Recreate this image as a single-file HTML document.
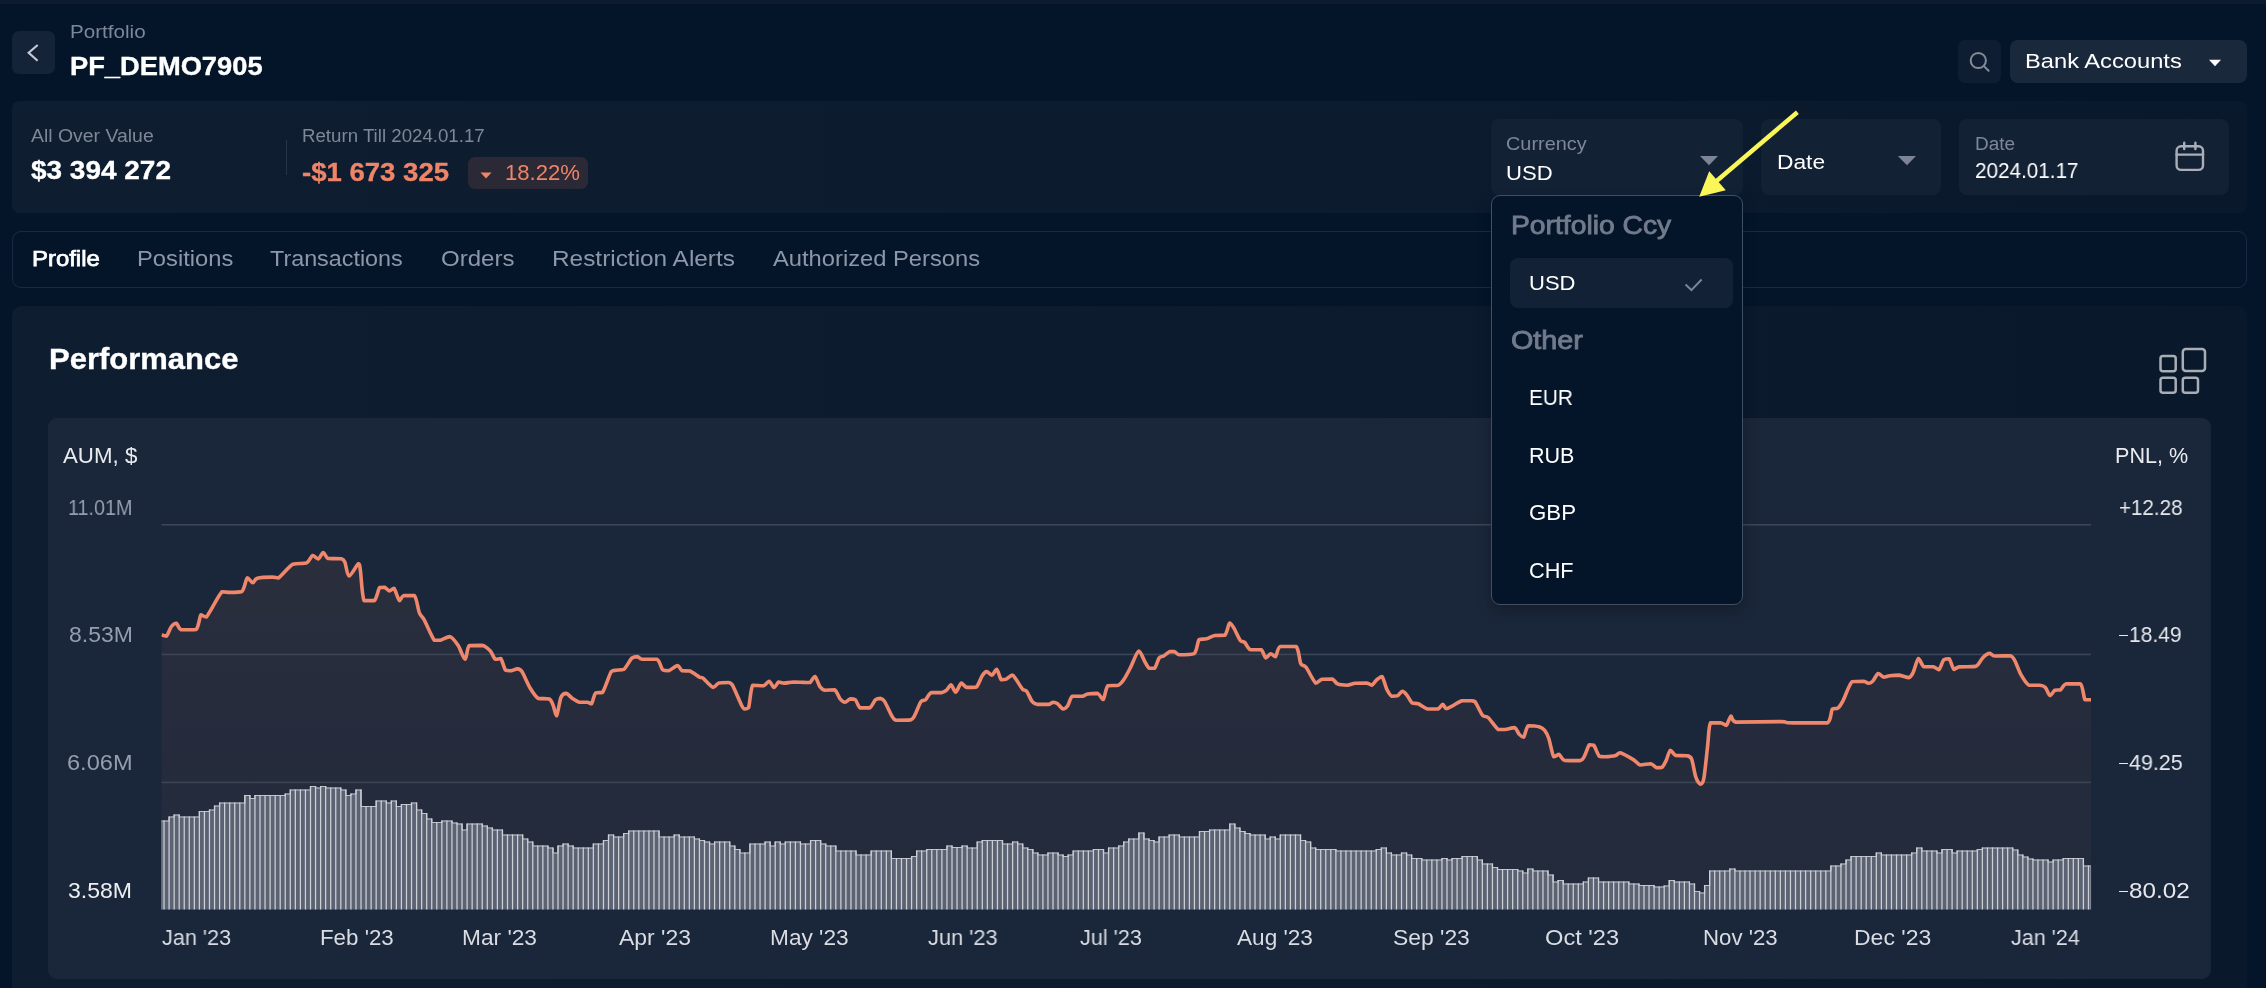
<!DOCTYPE html>
<html><head><meta charset="utf-8"><title>Portfolio</title>
<style>
html,body{margin:0;padding:0;}
html{width:2266px;height:988px;overflow:hidden;background:#04152a;}
body{width:2266px;height:988px;overflow:hidden;background:#04152a;font-family:"Liberation Sans",sans-serif;position:relative;}
.t{position:absolute;white-space:pre;margin:0;padding:0;transform-origin:0 0;will-change:transform;}
.b{position:absolute;box-sizing:border-box;}
svg{position:absolute;left:0;top:0;overflow:visible;}
</style></head><body>

<div class="b" style="left:0;top:0;width:2266px;height:4px;background:#0e1b2f;"></div>
<div class="b" style="left:12px;top:31px;width:43px;height:43px;border-radius:7px;background:#152338;"></div>
<div class="t" style="left:69.70px;top:21px;font-size:18.5px;line-height:21px;transform:scaleX(1.1149);color:#7e8798;">Portfolio</div>
<div class="t" style="left:70.20px;top:52px;font-size:25.0px;line-height:28px;transform:scaleX(1.0912);color:#ffffff;font-weight:700;-webkit-text-stroke:0.35px currentColor;">PF_DEMO7905</div>
<div class="b" style="left:1958px;top:40px;width:43px;height:43px;border-radius:7px;background:#0f1d32;"></div>
<div class="b" style="left:2010px;top:40px;width:237px;height:43px;border-radius:8px;background:#1a283c;"></div>
<div class="t" style="left:2025.00px;top:49px;font-size:20.5px;line-height:23px;transform:scaleX(1.1563);color:#ffffff;">Bank Accounts</div>
<div class="b" style="left:12px;top:101px;width:2235px;height:112px;border-radius:8px;background:linear-gradient(90deg,#0f1d31 0%,#0d1b2f 55%,#0a182b 100%);"></div>
<div class="t" style="left:30.50px;top:126px;font-size:18.0px;line-height:20px;transform:scaleX(1.0792);color:#7e8798;">All Over Value</div>
<div class="t" style="left:30.50px;top:155px;font-size:26.0px;line-height:30px;transform:scaleX(1.0753);color:#ffffff;font-weight:700;-webkit-text-stroke:0.35px currentColor;">$3 394 272</div>
<div class="b" style="left:285.5px;top:139.5px;width:1.5px;height:35px;background:#27344a;"></div>
<div class="t" style="left:302.30px;top:126px;font-size:18.0px;line-height:20px;transform:scaleX(1.0375);color:#7e8798;">Return Till 2024.01.17</div>
<div class="t" style="left:302.30px;top:158px;font-size:25.0px;line-height:28px;transform:scaleX(1.1019);color:#ee8468;font-weight:700;-webkit-text-stroke:0.35px currentColor;">-$1 673 325</div>
<div class="b" style="left:468px;top:157px;width:120px;height:31.5px;border-radius:7px;background:#2a2935;"></div>
<div class="t" style="left:505.00px;top:160px;font-size:22.0px;line-height:25px;transform:scaleX(1.0054);color:#ee8468;">18.22%</div>
<div class="b" style="left:1491px;top:119px;width:252px;height:76px;border-radius:8px;background:#132135;"></div>
<div class="b" style="left:1761px;top:119px;width:180px;height:76px;border-radius:8px;background:#132135;"></div>
<div class="b" style="left:1959px;top:119px;width:270px;height:76px;border-radius:8px;background:#132135;"></div>
<div class="t" style="left:1506.30px;top:133px;font-size:18.5px;line-height:21px;transform:scaleX(1.0746);color:#7e8798;">Currency</div>
<div class="t" style="left:1506.30px;top:161px;font-size:20.5px;line-height:23px;transform:scaleX(1.0762);color:#ffffff;">USD</div>
<div class="t" style="left:1776.90px;top:150px;font-size:20.5px;line-height:23px;transform:scaleX(1.1109);color:#ffffff;">Date</div>
<div class="t" style="left:1974.50px;top:134px;font-size:18.0px;line-height:20px;transform:scaleX(1.0526);color:#7e8798;">Date</div>
<div class="t" style="left:1974.50px;top:158px;font-size:22.0px;line-height:25px;transform:scaleX(0.9401);color:#ffffff;">2024.01.17</div>
<div class="b" style="left:12px;top:231px;width:2235px;height:57px;border-radius:9px;border:1px solid #1b2a40;background:#04152a;"></div>
<div class="t" style="left:31.60px;top:246px;font-size:22.0px;line-height:25px;transform:scaleX(1.0865);color:#ffffff;-webkit-text-stroke:0.75px currentColor;">Profile</div>
<div class="t" style="left:136.90px;top:246px;font-size:22.0px;line-height:25px;transform:scaleX(1.0784);color:#8e97a8;">Positions</div>
<div class="t" style="left:270.00px;top:246px;font-size:22.0px;line-height:25px;transform:scaleX(1.0608);color:#8e97a8;">Transactions</div>
<div class="t" style="left:440.60px;top:246px;font-size:22.0px;line-height:25px;transform:scaleX(1.0923);color:#8e97a8;">Orders</div>
<div class="t" style="left:552.00px;top:246px;font-size:22.0px;line-height:25px;transform:scaleX(1.1084);color:#8e97a8;">Restriction Alerts</div>
<div class="t" style="left:773.00px;top:246px;font-size:22.0px;line-height:25px;transform:scaleX(1.0781);color:#8e97a8;">Authorized Persons</div>
<div class="b" style="left:12px;top:306px;width:2235px;height:682px;border-radius:10px 10px 0 0;background:linear-gradient(90deg,#0f1d31 0%,#0d1b2f 55%,#0a182b 100%);"></div>
<div class="t" style="left:48.60px;top:342px;font-size:29.5px;line-height:33px;transform:scaleX(1.0499);color:#ffffff;font-weight:700;-webkit-text-stroke:0.35px currentColor;">Performance</div>
<div class="b" style="left:48px;top:418px;width:2163px;height:561px;border-radius:9px;background:#1a273a;"></div>
<div class="t" style="left:63.10px;top:443px;font-size:22.0px;line-height:25px;transform:scaleX(1.0136);color:#e9ebef;">AUM, $</div>
<div class="t" style="left:2115.40px;top:444px;font-size:21.5px;line-height:24px;transform:scaleX(1.0027);color:#e9ebef;">PNL, %</div>
<div class="t" style="left:67.80px;top:495px;font-size:22.0px;line-height:25px;transform:scaleX(0.8969);color:#949eaf;">11.01M</div>
<div class="t" style="left:68.50px;top:622px;font-size:22.0px;line-height:25px;transform:scaleX(1.0426);color:#949eaf;">8.53M</div>
<div class="t" style="left:66.70px;top:750px;font-size:22.0px;line-height:25px;transform:scaleX(1.0720);color:#949eaf;">6.06M</div>
<div class="t" style="left:68.20px;top:878px;font-size:22.0px;line-height:25px;transform:scaleX(1.0475);color:#eceef1;">3.58M</div>
<div class="t" style="left:2118.80px;top:495px;font-size:22.0px;line-height:25px;transform:scaleX(0.9352);color:#e6e8ec;">+12.28</div>
<div class="t" style="left:2129.40px;top:622px;font-size:22.0px;line-height:25px;transform:scaleX(0.9564);color:#e6e8ec;">18.49</div>
<div class="b" style="left:2118.6px;top:634.8px;width:9.2px;height:1.7px;background:#e6e8ec;"></div>
<div class="t" style="left:2129.40px;top:750px;font-size:22.0px;line-height:25px;transform:scaleX(0.9764);color:#e6e8ec;">49.25</div>
<div class="b" style="left:2118.6px;top:762.8px;width:9.2px;height:1.7px;background:#e6e8ec;"></div>
<div class="t" style="left:2129.40px;top:878px;font-size:22.0px;line-height:25px;transform:scaleX(1.1034);color:#e6e8ec;">80.02</div>
<div class="b" style="left:2118.6px;top:890.8px;width:9.2px;height:1.7px;background:#e6e8ec;"></div>
<svg width="2266" height="988" viewBox="0 0 2266 988">
<defs><clipPath id="pc"><rect x="161.5" y="500" width="1929.5" height="420"/></clipPath><linearGradient id="ag" gradientUnits="userSpaceOnUse" x1="0" y1="550" x2="0" y2="910"><stop offset="0" stop-color="#f0856a" stop-opacity="0.075"/><stop offset="1" stop-color="#f0856a" stop-opacity="0.04"/></linearGradient></defs>
<path d="M161.5,635.0 C162.2,635.2 165.1,636.1 166.5,636.1 C167.9,634.9 170.0,628.3 171.4,626.5 C172.8,624.7 174.9,623.2 176.3,623.2 C177.7,623.7 178.4,628.9 181.2,629.8 C184.0,629.8 193.2,629.8 196.0,629.5 C198.8,627.4 199.4,616.6 200.9,614.8 C202.4,614.8 203.4,617.0 206.4,617.0 C209.4,613.7 218.5,595.3 221.9,591.8 C225.3,591.8 227.3,592.4 230.1,592.4 C232.9,592.4 239.5,592.4 241.9,591.5 C244.3,589.4 245.8,579.1 247.3,577.9 C248.8,577.9 251.4,582.8 252.8,582.8 C254.2,582.8 254.6,579.0 257.4,578.2 C260.2,577.4 269.5,577.1 272.5,577.1 C275.5,577.1 275.6,577.9 278.5,577.9 C281.4,576.1 289.0,566.3 293.0,564.2 C297.0,562.9 303.8,564.1 306.6,562.9 C309.4,561.7 310.9,556.1 312.6,555.5 C314.3,555.5 316.9,559.0 318.4,559.0 C319.9,558.6 321.9,552.6 323.3,552.5 C324.7,552.5 325.6,557.6 328.2,558.5 C330.8,558.8 338.9,558.5 341.3,558.8 C343.7,559.3 343.8,559.9 344.9,562.3 C346.0,564.7 347.1,575.8 349.0,576.0 C350.9,576.0 356.9,564.5 358.5,563.7 C360.1,563.7 359.6,565.3 360.4,570.5 C361.2,575.7 362.0,596.3 364.0,600.6 C366.0,600.6 372.2,600.6 374.4,600.6 C376.6,598.7 378.2,589.4 379.6,587.5 C381.0,587.2 383.1,587.2 384.5,587.2 C385.9,587.7 388.1,590.8 389.4,591.0 C390.7,591.0 392.6,588.3 394.0,588.3 C395.4,589.7 398.1,599.6 399.5,600.6 C400.9,600.6 401.5,596.3 403.6,595.6 C405.7,595.6 412.3,595.6 414.5,595.6 C416.7,598.1 418.0,609.5 419.4,612.9 C420.8,616.3 422.0,615.8 424.1,619.7 C426.2,623.6 431.9,637.3 434.2,640.2 C436.5,640.2 438.3,640.2 440.5,640.2 C442.7,639.7 447.5,636.6 450.0,636.6 C452.5,637.4 456.1,642.4 458.2,645.6 C460.3,648.8 463.5,659.3 465.1,659.3 C466.7,659.3 466.9,647.6 469.2,645.6 C471.5,645.4 479.2,645.4 481.4,645.4 C483.6,645.5 483.7,645.7 485.0,646.5 C486.3,647.3 489.0,649.3 490.5,651.1 C492.0,652.9 493.9,658.3 495.4,659.3 C496.9,659.3 499.4,658.5 500.8,658.5 C502.2,660.0 504.1,668.5 505.5,670.2 C506.9,670.8 509.3,670.8 511.0,670.8 C512.7,670.6 515.7,668.9 517.2,668.9 C518.7,669.0 520.1,668.9 521.9,671.6 C523.7,674.3 527.8,684.2 530.1,688.0 C532.4,691.8 535.6,696.9 538.3,698.4 C541.0,698.9 547.1,698.4 549.2,698.9 C551.3,699.9 552.3,703.3 553.3,705.7 C554.3,708.1 555.5,715.8 556.6,715.8 C557.7,714.6 559.6,700.7 560.9,697.5 C562.2,694.3 564.5,693.4 566.1,693.4 C567.7,693.5 570.5,697.2 572.4,698.4 C574.3,699.6 577.1,701.7 579.2,702.2 C581.3,702.2 585.7,702.2 587.4,702.2 C589.1,702.4 590.3,703.8 591.5,703.8 C592.7,702.5 594.0,694.5 595.6,692.9 C597.2,692.4 600.3,692.9 602.5,692.4 C604.7,689.4 609.3,674.7 611.2,671.6 C613.1,670.2 614.3,670.5 616.1,670.2 C617.9,669.9 621.5,670.2 623.8,669.4 C626.1,667.7 630.1,659.7 632.0,657.9 C633.9,656.6 636.0,656.6 637.4,656.6 C638.8,656.8 639.3,658.9 642.1,659.3 C644.9,659.3 654.2,659.3 657.1,659.3 C660.0,660.8 661.0,668.1 662.6,669.7 C664.2,670.8 666.5,670.8 668.6,670.8 C670.7,670.2 675.7,665.6 677.6,665.6 C679.5,665.6 680.5,670.0 682.2,670.8 C683.9,671.0 687.5,670.8 689.9,671.0 C692.3,671.9 697.6,676.1 699.4,677.1 C701.2,677.9 700.8,677.1 702.7,677.9 C704.6,679.4 710.8,686.7 713.1,687.4 C715.4,687.4 716.5,683.8 718.6,683.1 C720.7,682.5 726.2,682.5 728.1,682.5 C730.0,682.7 730.3,682.5 732.2,684.7 C734.1,688.0 740.1,702.3 741.8,705.7 C743.5,709.0 743.5,708.7 744.5,709.0 C745.5,709.0 747.4,709.0 748.6,707.6 C749.8,704.2 750.6,688.3 752.7,685.2 C754.8,685.2 761.3,685.8 763.6,685.8 C765.9,685.2 767.6,681.2 769.1,681.2 C770.6,681.4 772.6,687.3 774.0,687.4 C775.4,687.4 777.3,682.6 778.7,682.0 C780.1,682.0 782.0,683.1 784.1,683.1 C786.2,683.1 790.6,682.1 793.7,682.0 C796.8,682.0 803.7,682.4 806.0,682.5 C808.3,682.5 808.8,682.5 810.1,682.5 C811.4,681.6 813.6,676.5 815.0,676.5 C816.4,677.1 818.5,684.7 819.9,686.6 C821.3,688.5 822.5,689.7 824.6,690.2 C826.7,690.2 832.5,689.9 834.7,689.9 C836.9,691.1 838.6,697.2 840.1,698.9 C841.6,700.6 843.6,702.2 845.0,702.2 C846.4,702.2 848.5,699.3 850.0,698.9 C851.5,698.9 854.0,698.9 855.4,699.7 C856.8,701.0 858.1,706.7 860.1,707.9 C862.1,707.9 867.4,707.9 869.6,707.9 C871.8,706.7 874.0,701.0 875.6,699.7 C877.2,698.4 879.3,698.4 880.6,698.4 C881.9,698.7 883.2,699.2 884.7,701.6 C886.2,704.0 889.9,712.7 891.5,715.3 C893.1,717.9 893.4,719.5 896.1,720.2 C898.8,720.2 908.0,720.2 910.6,719.9 C913.2,719.2 913.2,717.9 914.7,715.3 C916.2,712.7 919.5,703.8 921.0,701.6 C922.5,699.7 924.2,701.0 925.6,699.7 C927.0,698.4 928.8,693.6 931.1,692.6 C933.4,692.6 939.8,692.6 942.0,692.6 C944.2,692.2 945.6,691.0 946.9,689.9 C948.2,688.8 949.8,684.7 951.0,684.7 C952.2,685.0 954.3,692.1 955.7,692.1 C957.1,691.9 959.7,683.8 961.2,683.1 C962.7,683.1 964.5,686.8 966.6,687.4 C968.7,687.4 974.0,687.4 976.2,687.2 C978.4,685.5 980.7,677.9 982.2,675.7 C983.7,673.5 985.2,671.7 986.6,671.6 C988.0,671.6 990.6,675.1 992.0,675.1 C993.4,674.8 995.4,669.4 996.7,669.4 C998.0,670.1 1000.0,678.4 1001.3,679.8 C1002.6,679.8 1004.7,679.8 1006.2,679.2 C1007.7,678.5 1010.8,675.1 1012.2,675.1 C1013.6,675.1 1014.3,677.0 1015.8,679.0 C1017.3,681.0 1021.1,687.6 1022.6,689.3 C1024.1,691.0 1025.3,689.6 1026.7,691.3 C1028.1,693.0 1030.7,699.7 1032.2,701.6 C1033.7,703.5 1035.3,704.0 1037.6,704.4 C1039.9,704.4 1046.4,704.4 1048.6,704.4 C1050.8,704.1 1051.9,702.3 1053.2,702.2 C1054.5,702.2 1056.2,702.8 1057.6,703.8 C1059.0,704.8 1061.6,708.7 1063.0,709.0 C1064.4,709.0 1066.4,707.5 1067.7,705.7 C1069.0,703.9 1070.2,697.5 1072.3,696.2 C1074.4,696.2 1080.5,696.2 1082.7,696.2 C1084.9,695.9 1085.5,694.4 1087.6,694.0 C1089.7,693.6 1095.5,693.4 1097.7,693.4 C1099.9,694.2 1101.8,699.5 1103.2,699.5 C1104.6,698.4 1105.7,687.8 1107.8,685.8 C1109.9,685.2 1115.9,685.8 1118.2,685.2 C1120.5,684.4 1122.0,682.3 1123.7,679.8 C1125.4,677.3 1128.4,671.6 1130.5,667.5 C1132.6,663.4 1136.6,651.9 1138.7,651.1 C1140.8,651.1 1143.5,659.6 1145.0,662.0 C1146.5,664.4 1147.7,667.4 1149.1,668.3 C1150.5,668.3 1153.2,668.3 1154.6,668.3 C1156.0,666.8 1157.9,659.6 1159.2,657.9 C1160.5,656.2 1162.1,656.9 1163.6,656.0 C1165.1,655.1 1168.1,652.2 1169.6,651.6 C1171.1,651.6 1173.2,651.6 1174.5,651.6 C1175.8,652.0 1176.3,654.4 1179.1,654.7 C1181.9,654.7 1191.4,654.7 1194.2,653.6 C1197.0,651.5 1197.4,641.7 1199.1,639.6 C1200.8,638.8 1204.3,639.4 1206.5,638.8 C1208.7,638.2 1212.1,636.0 1214.7,635.5 C1217.3,635.3 1222.7,635.5 1224.8,635.3 C1226.9,633.5 1228.4,624.0 1229.7,623.0 C1231.0,623.0 1232.3,625.5 1233.8,627.9 C1235.3,630.3 1238.6,638.1 1240.1,640.2 C1241.6,642.3 1243.3,641.1 1244.7,642.4 C1246.1,643.7 1247.9,648.7 1250.2,649.7 C1252.5,649.7 1258.9,649.7 1261.1,649.7 C1263.3,650.9 1264.3,657.3 1265.7,657.9 C1267.1,657.9 1269.3,654.0 1270.7,653.8 C1272.1,653.8 1274.3,656.6 1275.6,656.6 C1276.9,655.6 1277.3,647.9 1280.2,646.5 C1283.1,646.5 1293.2,646.5 1296.1,646.5 C1299.0,648.9 1299.3,660.4 1300.7,663.4 C1302.1,666.4 1304.1,664.7 1306.2,667.5 C1308.3,670.3 1313.5,681.4 1315.7,683.1 C1317.9,683.1 1319.7,679.8 1322.0,679.2 C1324.3,679.0 1329.9,679.0 1332.1,679.0 C1334.3,679.7 1335.5,683.0 1337.6,683.9 C1339.7,684.8 1344.7,685.2 1347.2,685.2 C1349.7,685.1 1352.5,683.6 1355.3,683.3 C1358.1,683.1 1364.5,683.1 1366.8,683.1 C1369.1,683.4 1370.3,685.2 1371.7,685.2 C1373.1,684.7 1375.2,681.0 1376.7,679.8 C1378.2,678.6 1380.7,676.5 1382.1,676.5 C1383.5,677.8 1385.4,686.5 1386.8,689.3 C1388.2,692.1 1390.2,695.3 1391.7,696.2 C1393.2,696.2 1396.2,696.2 1397.7,695.6 C1399.2,694.9 1401.0,691.4 1402.3,691.3 C1403.6,691.3 1405.3,693.1 1406.7,694.8 C1408.1,696.5 1410.6,701.7 1412.2,703.0 C1413.8,703.8 1416.0,703.0 1418.2,703.8 C1420.4,704.6 1424.9,708.3 1427.7,709.0 C1430.5,709.0 1435.7,709.0 1437.8,709.0 C1439.9,708.3 1441.5,704.5 1442.8,704.4 C1444.1,704.4 1444.2,708.5 1446.9,708.5 C1449.6,708.0 1458.4,701.9 1461.9,700.8 C1465.4,700.8 1469.5,700.8 1471.4,700.8 C1473.3,700.9 1473.4,700.8 1475.0,701.6 C1476.6,703.7 1480.7,713.0 1482.6,715.3 C1484.5,717.5 1485.9,715.5 1488.1,717.5 C1490.3,719.5 1495.8,727.8 1498.2,729.5 C1500.6,729.5 1502.7,729.5 1505.0,729.5 C1507.3,729.2 1512.6,727.6 1514.6,727.6 C1516.6,728.3 1518.0,733.0 1519.3,734.4 C1520.6,735.8 1522.3,737.2 1523.6,737.2 C1524.9,736.0 1526.1,727.2 1528.3,725.7 C1530.5,725.7 1536.9,726.1 1539.2,726.8 C1541.5,727.5 1543.3,728.6 1544.7,730.3 C1546.1,732.0 1547.5,734.7 1548.8,738.5 C1550.1,742.3 1552.2,754.5 1553.7,756.8 C1555.2,756.8 1557.6,754.4 1559.1,754.4 C1560.6,754.9 1561.6,759.5 1564.6,760.4 C1567.6,760.6 1577.4,760.6 1580.2,760.6 C1583.0,760.0 1583.0,758.5 1584.3,756.3 C1585.6,754.1 1587.9,746.4 1589.2,744.8 C1590.5,744.8 1592.4,744.8 1593.8,745.3 C1595.2,746.9 1597.7,754.7 1599.3,756.3 C1600.9,756.8 1602.5,756.8 1604.8,756.8 C1607.1,756.7 1613.5,756.1 1615.7,755.5 C1617.9,754.9 1617.8,752.7 1620.3,752.7 C1622.8,753.3 1630.6,757.9 1633.4,759.6 C1636.2,761.3 1637.8,764.4 1640.3,765.0 C1642.8,765.0 1648.4,763.7 1650.7,763.7 C1653.0,764.1 1655.1,767.2 1656.7,767.7 C1658.3,767.7 1660.8,767.7 1662.1,767.2 C1663.4,766.2 1665.0,762.8 1666.2,760.4 C1667.4,758.0 1668.9,751.0 1670.3,750.3 C1671.7,750.3 1673.5,754.7 1675.8,755.5 C1678.1,755.7 1684.5,755.5 1686.7,755.7 C1688.9,756.2 1690.3,756.0 1691.6,759.0 C1692.9,762.0 1694.5,773.2 1695.7,776.8 C1696.9,780.4 1699.2,783.9 1700.4,784.1 C1701.6,784.1 1702.9,783.6 1703.9,778.1 C1704.9,772.6 1706.8,753.1 1707.7,745.3 C1708.6,737.5 1708.6,726.1 1710.5,722.9 C1712.4,722.9 1718.7,722.9 1720.9,722.9 C1723.1,723.3 1724.9,725.4 1726.3,725.4 C1727.7,724.4 1729.6,716.6 1731.0,716.1 C1732.4,716.1 1731.0,721.3 1735.9,722.1 C1743.0,722.1 1773.6,721.6 1781.0,721.6 C1787.8,721.7 1784.4,722.5 1787.8,722.7 C1791.2,722.9 1799.4,722.9 1805.0,722.9 C1810.6,722.9 1823.5,722.9 1827.4,722.9 C1831.3,720.9 1830.8,711.1 1832.3,709.0 C1833.8,708.2 1836.3,709.0 1837.8,708.2 C1839.3,707.0 1841.2,704.1 1843.2,700.3 C1845.2,696.5 1849.1,684.4 1852.0,681.7 C1854.9,681.2 1861.4,681.2 1863.7,681.2 C1866.0,681.4 1867.1,683.3 1868.4,683.3 C1869.7,683.3 1871.3,682.6 1872.7,681.2 C1874.1,679.8 1876.6,674.1 1878.2,673.5 C1879.8,673.5 1882.1,676.8 1883.7,677.1 C1885.3,677.1 1887.5,676.0 1889.7,675.7 C1891.9,675.4 1896.5,675.1 1899.2,675.1 C1901.9,675.4 1906.9,677.6 1908.8,677.6 C1910.7,677.3 1911.5,675.7 1912.9,673.0 C1914.3,670.3 1916.9,659.4 1918.4,658.5 C1919.9,658.5 1921.7,665.5 1923.8,666.7 C1925.9,666.7 1931.3,666.7 1933.4,666.7 C1935.5,667.1 1937.4,669.7 1938.9,669.7 C1940.4,668.7 1942.3,661.3 1943.8,659.8 C1945.3,658.8 1947.8,658.8 1949.2,658.8 C1950.6,660.2 1952.5,668.3 1953.9,669.4 C1955.3,669.4 1956.2,667.3 1959.3,666.9 C1962.4,666.5 1972.4,666.9 1975.7,666.4 C1979.0,665.1 1980.7,659.8 1982.6,657.9 C1984.5,656.0 1987.7,653.6 1989.4,653.3 C1991.1,653.3 1991.9,655.7 1994.9,656.0 C1997.9,656.0 2007.6,655.7 2010.4,655.7 C2013.2,656.4 2013.3,658.1 2014.8,660.7 C2016.3,663.3 2018.8,670.8 2020.8,674.3 C2022.8,677.8 2026.3,683.7 2029.0,685.2 C2031.7,685.2 2037.6,685.2 2039.9,685.2 C2042.2,685.5 2044.0,685.9 2045.4,687.4 C2046.8,688.9 2048.6,695.2 2050.0,695.6 C2051.4,695.6 2053.5,691.0 2055.0,690.2 C2056.5,689.9 2058.9,690.2 2060.4,689.9 C2061.9,689.0 2063.1,684.8 2065.9,683.9 C2068.7,683.9 2077.7,683.9 2080.4,683.9 C2083.1,686.1 2083.5,697.5 2085.0,699.7 C2086.5,699.7 2090.2,699.7 2091.0,699.7 L2091.0,909.5 L161.5,909.5 Z" fill="url(#ag)"/>
<rect x="161.5" y="524.0" width="1929.5" height="1.6" fill="#3b4556"/>
<rect x="161.5" y="653.6" width="1929.5" height="1.6" fill="#3b4556"/>
<rect x="161.5" y="781.6" width="1929.5" height="1.6" fill="#3b4556"/>
<path d="M161.5,909.5 L161.50,820.5 L164.03,820.5 L164.03,820.5 L169.08,820.5 L169.08,816.5 L174.13,816.5 L174.13,814.5 L179.18,814.5 L179.18,816.5 L184.23,816.5 L184.23,816.5 L189.28,816.5 L189.28,816.5 L194.33,816.5 L194.33,816.5 L199.38,816.5 L199.38,811.0 L204.43,811.0 L204.43,811.0 L209.48,811.0 L209.48,809.5 L214.54,809.5 L214.54,805.5 L219.59,805.5 L219.59,802.5 L224.64,802.5 L224.64,802.5 L229.69,802.5 L229.69,802.5 L234.74,802.5 L234.74,802.5 L239.79,802.5 L239.79,802.5 L244.84,802.5 L244.84,795.0 L249.89,795.0 L249.89,798.0 L254.94,798.0 L254.94,795.0 L260.00,795.0 L260.00,795.0 L265.05,795.0 L265.05,795.0 L270.10,795.0 L270.10,795.0 L275.15,795.0 L275.15,795.0 L280.20,795.0 L280.20,795.0 L285.25,795.0 L285.25,793.5 L290.30,793.5 L290.30,789.5 L295.35,789.5 L295.35,789.5 L300.40,789.5 L300.40,789.5 L305.45,789.5 L305.45,789.5 L310.51,789.5 L310.51,786.0 L315.56,786.0 L315.56,787.5 L320.61,787.5 L320.61,786.0 L325.66,786.0 L325.66,787.5 L330.71,787.5 L330.71,787.5 L335.76,787.5 L335.76,787.5 L340.81,787.5 L340.81,789.5 L345.86,789.5 L345.86,795.0 L350.91,795.0 L350.91,793.5 L355.97,793.5 L355.97,789.5 L361.02,789.5 L361.02,806.0 L366.07,806.0 L366.07,806.0 L371.12,806.0 L371.12,806.0 L376.17,806.0 L376.17,800.5 L381.22,800.5 L381.22,800.5 L386.27,800.5 L386.27,802.5 L391.32,802.5 L391.32,800.5 L396.37,800.5 L396.37,806.0 L401.42,806.0 L401.42,804.0 L406.48,804.0 L406.48,804.0 L411.53,804.0 L411.53,802.5 L416.58,802.5 L416.58,809.5 L421.63,809.5 L421.63,813.0 L426.68,813.0 L426.68,818.5 L431.73,818.5 L431.73,822.0 L436.78,822.0 L436.78,822.0 L441.83,822.0 L441.83,820.5 L446.88,820.5 L446.88,820.5 L451.94,820.5 L451.94,822.5 L456.99,822.5 L456.99,823.5 L462.04,823.5 L462.04,829.5 L467.09,829.5 L467.09,823.5 L472.14,823.5 L472.14,823.5 L477.19,823.5 L477.19,823.5 L482.24,823.5 L482.24,825.5 L487.29,825.5 L487.29,827.5 L492.34,827.5 L492.34,829.5 L497.39,829.5 L497.39,829.5 L502.45,829.5 L502.45,834.5 L507.50,834.5 L507.50,834.5 L512.55,834.5 L512.55,834.5 L517.60,834.5 L517.60,834.5 L522.65,834.5 L522.65,838.5 L527.70,838.5 L527.70,841.5 L532.75,841.5 L532.75,845.5 L537.80,845.5 L537.80,845.5 L542.85,845.5 L542.85,845.5 L547.91,845.5 L547.91,847.5 L552.96,847.5 L552.96,852.5 L558.01,852.5 L558.01,845.5 L563.06,845.5 L563.06,843.5 L568.11,843.5 L568.11,845.5 L573.16,845.5 L573.16,847.5 L578.21,847.5 L578.21,847.5 L583.26,847.5 L583.26,847.5 L588.31,847.5 L588.31,847.5 L593.36,847.5 L593.36,843.5 L598.42,843.5 L598.42,843.5 L603.47,843.5 L603.47,840.0 L608.52,840.0 L608.52,834.5 L613.57,834.5 L613.57,836.5 L618.62,836.5 L618.62,836.5 L623.67,836.5 L623.67,833.0 L628.72,833.0 L628.72,830.5 L633.77,830.5 L633.77,830.5 L638.82,830.5 L638.82,830.5 L643.88,830.5 L643.88,830.5 L648.93,830.5 L648.93,830.5 L653.98,830.5 L653.98,830.5 L659.03,830.5 L659.03,836.5 L664.08,836.5 L664.08,836.5 L669.13,836.5 L669.13,836.5 L674.18,836.5 L674.18,834.5 L679.23,834.5 L679.23,836.5 L684.28,836.5 L684.28,836.5 L689.33,836.5 L689.33,836.5 L694.39,836.5 L694.39,838.5 L699.44,838.5 L699.44,840.0 L704.49,840.0 L704.49,841.5 L709.54,841.5 L709.54,843.5 L714.59,843.5 L714.59,841.5 L719.64,841.5 L719.64,841.5 L724.69,841.5 L724.69,841.5 L729.74,841.5 L729.74,845.5 L734.79,845.5 L734.79,849.0 L739.84,849.0 L739.84,852.5 L744.90,852.5 L744.90,852.5 L749.95,852.5 L749.95,843.5 L755.00,843.5 L755.00,843.5 L760.05,843.5 L760.05,843.5 L765.10,843.5 L765.10,841.5 L770.15,841.5 L770.15,845.5 L775.20,845.5 L775.20,841.5 L780.25,841.5 L780.25,843.5 L785.30,843.5 L785.30,841.5 L790.36,841.5 L790.36,841.5 L795.41,841.5 L795.41,841.5 L800.46,841.5 L800.46,843.5 L805.51,843.5 L805.51,843.5 L810.56,843.5 L810.56,840.0 L815.61,840.0 L815.61,840.0 L820.66,840.0 L820.66,843.5 L825.71,843.5 L825.71,845.5 L830.76,845.5 L830.76,845.5 L835.81,845.5 L835.81,850.5 L840.87,850.5 L840.87,850.5 L845.92,850.5 L845.92,850.5 L850.97,850.5 L850.97,850.5 L856.02,850.5 L856.02,854.5 L861.07,854.5 L861.07,854.5 L866.12,854.5 L866.12,854.5 L871.17,854.5 L871.17,850.5 L876.22,850.5 L876.22,850.5 L881.27,850.5 L881.27,850.5 L886.33,850.5 L886.33,850.5 L891.38,850.5 L891.38,858.0 L896.43,858.0 L896.43,858.0 L901.48,858.0 L901.48,858.0 L906.53,858.0 L906.53,858.0 L911.58,858.0 L911.58,856.0 L916.63,856.0 L916.63,850.5 L921.68,850.5 L921.68,850.5 L926.73,850.5 L926.73,849.0 L931.78,849.0 L931.78,849.0 L936.84,849.0 L936.84,849.0 L941.89,849.0 L941.89,849.0 L946.94,849.0 L946.94,845.5 L951.99,845.5 L951.99,847.0 L957.04,847.0 L957.04,847.0 L962.09,847.0 L962.09,845.5 L967.14,845.5 L967.14,847.5 L972.19,847.5 L972.19,847.5 L977.24,847.5 L977.24,841.5 L982.30,841.5 L982.30,840.0 L987.35,840.0 L987.35,840.0 L992.40,840.0 L992.40,840.0 L997.45,840.0 L997.45,840.0 L1002.50,840.0 L1002.50,843.5 L1007.55,843.5 L1007.55,843.5 L1012.60,843.5 L1012.60,841.5 L1017.65,841.5 L1017.65,843.5 L1022.70,843.5 L1022.70,847.5 L1027.75,847.5 L1027.75,849.0 L1032.81,849.0 L1032.81,852.5 L1037.86,852.5 L1037.86,854.5 L1042.91,854.5 L1042.91,854.5 L1047.96,854.5 L1047.96,852.5 L1053.01,852.5 L1053.01,852.5 L1058.06,852.5 L1058.06,854.5 L1063.11,854.5 L1063.11,856.0 L1068.16,856.0 L1068.16,854.5 L1073.21,854.5 L1073.21,850.5 L1078.27,850.5 L1078.27,850.5 L1083.32,850.5 L1083.32,850.5 L1088.37,850.5 L1088.37,850.5 L1093.42,850.5 L1093.42,849.0 L1098.47,849.0 L1098.47,849.0 L1103.52,849.0 L1103.52,852.5 L1108.57,852.5 L1108.57,847.5 L1113.62,847.5 L1113.62,847.5 L1118.67,847.5 L1118.67,845.5 L1123.72,845.5 L1123.72,841.5 L1128.78,841.5 L1128.78,838.5 L1133.83,838.5 L1133.83,838.5 L1138.88,838.5 L1138.88,832.5 L1143.93,832.5 L1143.93,838.5 L1148.98,838.5 L1148.98,840.0 L1154.03,840.0 L1154.03,841.5 L1159.08,841.5 L1159.08,836.5 L1164.13,836.5 L1164.13,836.5 L1169.18,836.5 L1169.18,834.5 L1174.23,834.5 L1174.23,834.5 L1179.29,834.5 L1179.29,836.5 L1184.34,836.5 L1184.34,836.5 L1189.39,836.5 L1189.39,836.5 L1194.44,836.5 L1194.44,836.5 L1199.49,836.5 L1199.49,831.0 L1204.54,831.0 L1204.54,831.0 L1209.59,831.0 L1209.59,829.5 L1214.64,829.5 L1214.64,829.5 L1219.69,829.5 L1219.69,829.5 L1224.75,829.5 L1224.75,829.5 L1229.80,829.5 L1229.80,823.5 L1234.85,823.5 L1234.85,827.5 L1239.90,827.5 L1239.90,831.0 L1244.95,831.0 L1244.95,833.0 L1250.00,833.0 L1250.00,834.5 L1255.05,834.5 L1255.05,834.5 L1260.10,834.5 L1260.10,834.5 L1265.15,834.5 L1265.15,838.5 L1270.20,838.5 L1270.20,836.5 L1275.26,836.5 L1275.26,838.5 L1280.31,838.5 L1280.31,834.5 L1285.36,834.5 L1285.36,834.5 L1290.41,834.5 L1290.41,834.5 L1295.46,834.5 L1295.46,834.5 L1300.51,834.5 L1300.51,840.0 L1305.56,840.0 L1305.56,841.5 L1310.61,841.5 L1310.61,847.5 L1315.66,847.5 L1315.66,849.0 L1320.72,849.0 L1320.72,849.0 L1325.77,849.0 L1325.77,849.0 L1330.82,849.0 L1330.82,849.0 L1335.87,849.0 L1335.87,850.5 L1340.92,850.5 L1340.92,850.5 L1345.97,850.5 L1345.97,850.5 L1351.02,850.5 L1351.02,850.5 L1356.07,850.5 L1356.07,850.5 L1361.12,850.5 L1361.12,850.5 L1366.17,850.5 L1366.17,850.5 L1371.23,850.5 L1371.23,850.5 L1376.28,850.5 L1376.28,849.0 L1381.33,849.0 L1381.33,847.5 L1386.38,847.5 L1386.38,852.5 L1391.43,852.5 L1391.43,854.5 L1396.48,854.5 L1396.48,854.5 L1401.53,854.5 L1401.53,852.5 L1406.58,852.5 L1406.58,854.5 L1411.63,854.5 L1411.63,858.0 L1416.69,858.0 L1416.69,858.0 L1421.74,858.0 L1421.74,859.5 L1426.79,859.5 L1426.79,859.5 L1431.84,859.5 L1431.84,859.5 L1436.89,859.5 L1436.89,859.5 L1441.94,859.5 L1441.94,858.0 L1446.99,858.0 L1446.99,859.5 L1452.04,859.5 L1452.04,858.0 L1457.09,858.0 L1457.09,858.0 L1462.14,858.0 L1462.14,856.0 L1467.20,856.0 L1467.20,856.0 L1472.25,856.0 L1472.25,856.0 L1477.30,856.0 L1477.30,859.5 L1482.35,859.5 L1482.35,863.5 L1487.40,863.5 L1487.40,863.5 L1492.45,863.5 L1492.45,867.0 L1497.50,867.0 L1497.50,869.0 L1502.55,869.0 L1502.55,869.0 L1507.60,869.0 L1507.60,869.0 L1512.66,869.0 L1512.66,869.0 L1517.71,869.0 L1517.71,870.5 L1522.76,870.5 L1522.76,872.5 L1527.81,872.5 L1527.81,868.5 L1532.86,868.5 L1532.86,870.5 L1537.91,870.5 L1537.91,870.5 L1542.96,870.5 L1542.96,870.5 L1548.01,870.5 L1548.01,874.5 L1553.06,874.5 L1553.06,881.5 L1558.11,881.5 L1558.11,880.0 L1563.17,880.0 L1563.17,883.5 L1568.22,883.5 L1568.22,883.5 L1573.27,883.5 L1573.27,883.5 L1578.32,883.5 L1578.32,883.5 L1583.37,883.5 L1583.37,881.5 L1588.42,881.5 L1588.42,877.5 L1593.47,877.5 L1593.47,877.5 L1598.52,877.5 L1598.52,881.5 L1603.57,881.5 L1603.57,881.5 L1608.62,881.5 L1608.62,881.5 L1613.68,881.5 L1613.68,881.5 L1618.73,881.5 L1618.73,881.5 L1623.78,881.5 L1623.78,881.5 L1628.83,881.5 L1628.83,883.5 L1633.88,883.5 L1633.88,883.5 L1638.93,883.5 L1638.93,885.0 L1643.98,885.0 L1643.98,885.0 L1649.03,885.0 L1649.03,885.0 L1654.08,885.0 L1654.08,886.5 L1659.14,886.5 L1659.14,886.5 L1664.19,886.5 L1664.19,885.5 L1669.24,885.5 L1669.24,880.0 L1674.29,880.0 L1674.29,881.5 L1679.34,881.5 L1679.34,881.5 L1684.39,881.5 L1684.39,881.5 L1689.44,881.5 L1689.44,883.5 L1694.49,883.5 L1694.49,891.0 L1699.54,891.0 L1699.54,892.5 L1704.59,892.5 L1704.59,885.0 L1709.65,885.0 L1709.65,870.5 L1714.70,870.5 L1714.70,870.5 L1719.75,870.5 L1719.75,870.5 L1724.80,870.5 L1724.80,870.5 L1729.85,870.5 L1729.85,868.5 L1734.90,868.5 L1734.90,870.5 L1739.95,870.5 L1739.95,870.5 L1745.00,870.5 L1745.00,870.5 L1750.05,870.5 L1750.05,870.5 L1755.11,870.5 L1755.11,870.5 L1760.16,870.5 L1760.16,870.5 L1765.21,870.5 L1765.21,870.5 L1770.26,870.5 L1770.26,870.5 L1775.31,870.5 L1775.31,870.5 L1780.36,870.5 L1780.36,870.5 L1785.41,870.5 L1785.41,870.5 L1790.46,870.5 L1790.46,870.5 L1795.51,870.5 L1795.51,870.5 L1800.56,870.5 L1800.56,870.5 L1805.62,870.5 L1805.62,870.5 L1810.67,870.5 L1810.67,870.5 L1815.72,870.5 L1815.72,870.5 L1820.77,870.5 L1820.77,870.5 L1825.82,870.5 L1825.82,870.5 L1830.87,870.5 L1830.87,865.5 L1835.92,865.5 L1835.92,865.5 L1840.97,865.5 L1840.97,863.5 L1846.02,863.5 L1846.02,859.5 L1851.08,859.5 L1851.08,856.0 L1856.13,856.0 L1856.13,856.0 L1861.18,856.0 L1861.18,856.0 L1866.23,856.0 L1866.23,856.0 L1871.28,856.0 L1871.28,856.0 L1876.33,856.0 L1876.33,852.5 L1881.38,852.5 L1881.38,854.5 L1886.43,854.5 L1886.43,854.5 L1891.48,854.5 L1891.48,854.5 L1896.53,854.5 L1896.53,854.5 L1901.59,854.5 L1901.59,854.5 L1906.64,854.5 L1906.64,854.5 L1911.69,854.5 L1911.69,852.5 L1916.74,852.5 L1916.74,847.5 L1921.79,847.5 L1921.79,850.5 L1926.84,850.5 L1926.84,850.5 L1931.89,850.5 L1931.89,850.5 L1936.94,850.5 L1936.94,852.5 L1941.99,852.5 L1941.99,849.0 L1947.05,849.0 L1947.05,849.0 L1952.10,849.0 L1952.10,852.5 L1957.15,852.5 L1957.15,850.5 L1962.20,850.5 L1962.20,850.5 L1967.25,850.5 L1967.25,850.5 L1972.30,850.5 L1972.30,850.5 L1977.35,850.5 L1977.35,849.0 L1982.40,849.0 L1982.40,847.5 L1987.45,847.5 L1987.45,847.5 L1992.50,847.5 L1992.50,847.5 L1997.56,847.5 L1997.56,847.5 L2002.61,847.5 L2002.61,847.5 L2007.66,847.5 L2007.66,847.5 L2012.71,847.5 L2012.71,849.5 L2017.76,849.5 L2017.76,854.5 L2022.81,854.5 L2022.81,856.5 L2027.86,856.5 L2027.86,858.5 L2032.91,858.5 L2032.91,859.5 L2037.96,859.5 L2037.96,859.5 L2043.02,859.5 L2043.02,859.5 L2048.07,859.5 L2048.07,861.5 L2053.12,861.5 L2053.12,859.5 L2058.17,859.5 L2058.17,859.5 L2063.22,859.5 L2063.22,858.0 L2068.27,858.0 L2068.27,858.0 L2073.32,858.0 L2073.32,858.0 L2078.37,858.0 L2078.37,858.0 L2083.42,858.0 L2083.42,865.5 L2088.47,865.5 L2088.47,865.5 L2091.00,865.5 L2091.0,909.5 Z" fill="#5b6373"/>
<path d="M161.50,821.0 L164.03,821.0 L164.03,821.0 L169.08,821.0 L169.08,817.0 L174.13,817.0 L174.13,815.0 L179.18,815.0 L179.18,817.0 L184.23,817.0 L184.23,817.0 L189.28,817.0 L189.28,817.0 L194.33,817.0 L194.33,817.0 L199.38,817.0 L199.38,811.5 L204.43,811.5 L204.43,811.5 L209.48,811.5 L209.48,810.0 L214.54,810.0 L214.54,806.0 L219.59,806.0 L219.59,803.0 L224.64,803.0 L224.64,803.0 L229.69,803.0 L229.69,803.0 L234.74,803.0 L234.74,803.0 L239.79,803.0 L239.79,803.0 L244.84,803.0 L244.84,795.5 L249.89,795.5 L249.89,798.5 L254.94,798.5 L254.94,795.5 L260.00,795.5 L260.00,795.5 L265.05,795.5 L265.05,795.5 L270.10,795.5 L270.10,795.5 L275.15,795.5 L275.15,795.5 L280.20,795.5 L280.20,795.5 L285.25,795.5 L285.25,794.0 L290.30,794.0 L290.30,790.0 L295.35,790.0 L295.35,790.0 L300.40,790.0 L300.40,790.0 L305.45,790.0 L305.45,790.0 L310.51,790.0 L310.51,786.5 L315.56,786.5 L315.56,788.0 L320.61,788.0 L320.61,786.5 L325.66,786.5 L325.66,788.0 L330.71,788.0 L330.71,788.0 L335.76,788.0 L335.76,788.0 L340.81,788.0 L340.81,790.0 L345.86,790.0 L345.86,795.5 L350.91,795.5 L350.91,794.0 L355.97,794.0 L355.97,790.0 L361.02,790.0 L361.02,806.5 L366.07,806.5 L366.07,806.5 L371.12,806.5 L371.12,806.5 L376.17,806.5 L376.17,801.0 L381.22,801.0 L381.22,801.0 L386.27,801.0 L386.27,803.0 L391.32,803.0 L391.32,801.0 L396.37,801.0 L396.37,806.5 L401.42,806.5 L401.42,804.5 L406.48,804.5 L406.48,804.5 L411.53,804.5 L411.53,803.0 L416.58,803.0 L416.58,810.0 L421.63,810.0 L421.63,813.5 L426.68,813.5 L426.68,819.0 L431.73,819.0 L431.73,822.5 L436.78,822.5 L436.78,822.5 L441.83,822.5 L441.83,821.0 L446.88,821.0 L446.88,821.0 L451.94,821.0 L451.94,823.0 L456.99,823.0 L456.99,824.0 L462.04,824.0 L462.04,830.0 L467.09,830.0 L467.09,824.0 L472.14,824.0 L472.14,824.0 L477.19,824.0 L477.19,824.0 L482.24,824.0 L482.24,826.0 L487.29,826.0 L487.29,828.0 L492.34,828.0 L492.34,830.0 L497.39,830.0 L497.39,830.0 L502.45,830.0 L502.45,835.0 L507.50,835.0 L507.50,835.0 L512.55,835.0 L512.55,835.0 L517.60,835.0 L517.60,835.0 L522.65,835.0 L522.65,839.0 L527.70,839.0 L527.70,842.0 L532.75,842.0 L532.75,846.0 L537.80,846.0 L537.80,846.0 L542.85,846.0 L542.85,846.0 L547.91,846.0 L547.91,848.0 L552.96,848.0 L552.96,853.0 L558.01,853.0 L558.01,846.0 L563.06,846.0 L563.06,844.0 L568.11,844.0 L568.11,846.0 L573.16,846.0 L573.16,848.0 L578.21,848.0 L578.21,848.0 L583.26,848.0 L583.26,848.0 L588.31,848.0 L588.31,848.0 L593.36,848.0 L593.36,844.0 L598.42,844.0 L598.42,844.0 L603.47,844.0 L603.47,840.5 L608.52,840.5 L608.52,835.0 L613.57,835.0 L613.57,837.0 L618.62,837.0 L618.62,837.0 L623.67,837.0 L623.67,833.5 L628.72,833.5 L628.72,831.0 L633.77,831.0 L633.77,831.0 L638.82,831.0 L638.82,831.0 L643.88,831.0 L643.88,831.0 L648.93,831.0 L648.93,831.0 L653.98,831.0 L653.98,831.0 L659.03,831.0 L659.03,837.0 L664.08,837.0 L664.08,837.0 L669.13,837.0 L669.13,837.0 L674.18,837.0 L674.18,835.0 L679.23,835.0 L679.23,837.0 L684.28,837.0 L684.28,837.0 L689.33,837.0 L689.33,837.0 L694.39,837.0 L694.39,839.0 L699.44,839.0 L699.44,840.5 L704.49,840.5 L704.49,842.0 L709.54,842.0 L709.54,844.0 L714.59,844.0 L714.59,842.0 L719.64,842.0 L719.64,842.0 L724.69,842.0 L724.69,842.0 L729.74,842.0 L729.74,846.0 L734.79,846.0 L734.79,849.5 L739.84,849.5 L739.84,853.0 L744.90,853.0 L744.90,853.0 L749.95,853.0 L749.95,844.0 L755.00,844.0 L755.00,844.0 L760.05,844.0 L760.05,844.0 L765.10,844.0 L765.10,842.0 L770.15,842.0 L770.15,846.0 L775.20,846.0 L775.20,842.0 L780.25,842.0 L780.25,844.0 L785.30,844.0 L785.30,842.0 L790.36,842.0 L790.36,842.0 L795.41,842.0 L795.41,842.0 L800.46,842.0 L800.46,844.0 L805.51,844.0 L805.51,844.0 L810.56,844.0 L810.56,840.5 L815.61,840.5 L815.61,840.5 L820.66,840.5 L820.66,844.0 L825.71,844.0 L825.71,846.0 L830.76,846.0 L830.76,846.0 L835.81,846.0 L835.81,851.0 L840.87,851.0 L840.87,851.0 L845.92,851.0 L845.92,851.0 L850.97,851.0 L850.97,851.0 L856.02,851.0 L856.02,855.0 L861.07,855.0 L861.07,855.0 L866.12,855.0 L866.12,855.0 L871.17,855.0 L871.17,851.0 L876.22,851.0 L876.22,851.0 L881.27,851.0 L881.27,851.0 L886.33,851.0 L886.33,851.0 L891.38,851.0 L891.38,858.5 L896.43,858.5 L896.43,858.5 L901.48,858.5 L901.48,858.5 L906.53,858.5 L906.53,858.5 L911.58,858.5 L911.58,856.5 L916.63,856.5 L916.63,851.0 L921.68,851.0 L921.68,851.0 L926.73,851.0 L926.73,849.5 L931.78,849.5 L931.78,849.5 L936.84,849.5 L936.84,849.5 L941.89,849.5 L941.89,849.5 L946.94,849.5 L946.94,846.0 L951.99,846.0 L951.99,847.5 L957.04,847.5 L957.04,847.5 L962.09,847.5 L962.09,846.0 L967.14,846.0 L967.14,848.0 L972.19,848.0 L972.19,848.0 L977.24,848.0 L977.24,842.0 L982.30,842.0 L982.30,840.5 L987.35,840.5 L987.35,840.5 L992.40,840.5 L992.40,840.5 L997.45,840.5 L997.45,840.5 L1002.50,840.5 L1002.50,844.0 L1007.55,844.0 L1007.55,844.0 L1012.60,844.0 L1012.60,842.0 L1017.65,842.0 L1017.65,844.0 L1022.70,844.0 L1022.70,848.0 L1027.75,848.0 L1027.75,849.5 L1032.81,849.5 L1032.81,853.0 L1037.86,853.0 L1037.86,855.0 L1042.91,855.0 L1042.91,855.0 L1047.96,855.0 L1047.96,853.0 L1053.01,853.0 L1053.01,853.0 L1058.06,853.0 L1058.06,855.0 L1063.11,855.0 L1063.11,856.5 L1068.16,856.5 L1068.16,855.0 L1073.21,855.0 L1073.21,851.0 L1078.27,851.0 L1078.27,851.0 L1083.32,851.0 L1083.32,851.0 L1088.37,851.0 L1088.37,851.0 L1093.42,851.0 L1093.42,849.5 L1098.47,849.5 L1098.47,849.5 L1103.52,849.5 L1103.52,853.0 L1108.57,853.0 L1108.57,848.0 L1113.62,848.0 L1113.62,848.0 L1118.67,848.0 L1118.67,846.0 L1123.72,846.0 L1123.72,842.0 L1128.78,842.0 L1128.78,839.0 L1133.83,839.0 L1133.83,839.0 L1138.88,839.0 L1138.88,833.0 L1143.93,833.0 L1143.93,839.0 L1148.98,839.0 L1148.98,840.5 L1154.03,840.5 L1154.03,842.0 L1159.08,842.0 L1159.08,837.0 L1164.13,837.0 L1164.13,837.0 L1169.18,837.0 L1169.18,835.0 L1174.23,835.0 L1174.23,835.0 L1179.29,835.0 L1179.29,837.0 L1184.34,837.0 L1184.34,837.0 L1189.39,837.0 L1189.39,837.0 L1194.44,837.0 L1194.44,837.0 L1199.49,837.0 L1199.49,831.5 L1204.54,831.5 L1204.54,831.5 L1209.59,831.5 L1209.59,830.0 L1214.64,830.0 L1214.64,830.0 L1219.69,830.0 L1219.69,830.0 L1224.75,830.0 L1224.75,830.0 L1229.80,830.0 L1229.80,824.0 L1234.85,824.0 L1234.85,828.0 L1239.90,828.0 L1239.90,831.5 L1244.95,831.5 L1244.95,833.5 L1250.00,833.5 L1250.00,835.0 L1255.05,835.0 L1255.05,835.0 L1260.10,835.0 L1260.10,835.0 L1265.15,835.0 L1265.15,839.0 L1270.20,839.0 L1270.20,837.0 L1275.26,837.0 L1275.26,839.0 L1280.31,839.0 L1280.31,835.0 L1285.36,835.0 L1285.36,835.0 L1290.41,835.0 L1290.41,835.0 L1295.46,835.0 L1295.46,835.0 L1300.51,835.0 L1300.51,840.5 L1305.56,840.5 L1305.56,842.0 L1310.61,842.0 L1310.61,848.0 L1315.66,848.0 L1315.66,849.5 L1320.72,849.5 L1320.72,849.5 L1325.77,849.5 L1325.77,849.5 L1330.82,849.5 L1330.82,849.5 L1335.87,849.5 L1335.87,851.0 L1340.92,851.0 L1340.92,851.0 L1345.97,851.0 L1345.97,851.0 L1351.02,851.0 L1351.02,851.0 L1356.07,851.0 L1356.07,851.0 L1361.12,851.0 L1361.12,851.0 L1366.17,851.0 L1366.17,851.0 L1371.23,851.0 L1371.23,851.0 L1376.28,851.0 L1376.28,849.5 L1381.33,849.5 L1381.33,848.0 L1386.38,848.0 L1386.38,853.0 L1391.43,853.0 L1391.43,855.0 L1396.48,855.0 L1396.48,855.0 L1401.53,855.0 L1401.53,853.0 L1406.58,853.0 L1406.58,855.0 L1411.63,855.0 L1411.63,858.5 L1416.69,858.5 L1416.69,858.5 L1421.74,858.5 L1421.74,860.0 L1426.79,860.0 L1426.79,860.0 L1431.84,860.0 L1431.84,860.0 L1436.89,860.0 L1436.89,860.0 L1441.94,860.0 L1441.94,858.5 L1446.99,858.5 L1446.99,860.0 L1452.04,860.0 L1452.04,858.5 L1457.09,858.5 L1457.09,858.5 L1462.14,858.5 L1462.14,856.5 L1467.20,856.5 L1467.20,856.5 L1472.25,856.5 L1472.25,856.5 L1477.30,856.5 L1477.30,860.0 L1482.35,860.0 L1482.35,864.0 L1487.40,864.0 L1487.40,864.0 L1492.45,864.0 L1492.45,867.5 L1497.50,867.5 L1497.50,869.5 L1502.55,869.5 L1502.55,869.5 L1507.60,869.5 L1507.60,869.5 L1512.66,869.5 L1512.66,869.5 L1517.71,869.5 L1517.71,871.0 L1522.76,871.0 L1522.76,873.0 L1527.81,873.0 L1527.81,869.0 L1532.86,869.0 L1532.86,871.0 L1537.91,871.0 L1537.91,871.0 L1542.96,871.0 L1542.96,871.0 L1548.01,871.0 L1548.01,875.0 L1553.06,875.0 L1553.06,882.0 L1558.11,882.0 L1558.11,880.5 L1563.17,880.5 L1563.17,884.0 L1568.22,884.0 L1568.22,884.0 L1573.27,884.0 L1573.27,884.0 L1578.32,884.0 L1578.32,884.0 L1583.37,884.0 L1583.37,882.0 L1588.42,882.0 L1588.42,878.0 L1593.47,878.0 L1593.47,878.0 L1598.52,878.0 L1598.52,882.0 L1603.57,882.0 L1603.57,882.0 L1608.62,882.0 L1608.62,882.0 L1613.68,882.0 L1613.68,882.0 L1618.73,882.0 L1618.73,882.0 L1623.78,882.0 L1623.78,882.0 L1628.83,882.0 L1628.83,884.0 L1633.88,884.0 L1633.88,884.0 L1638.93,884.0 L1638.93,885.5 L1643.98,885.5 L1643.98,885.5 L1649.03,885.5 L1649.03,885.5 L1654.08,885.5 L1654.08,887.0 L1659.14,887.0 L1659.14,887.0 L1664.19,887.0 L1664.19,886.0 L1669.24,886.0 L1669.24,880.5 L1674.29,880.5 L1674.29,882.0 L1679.34,882.0 L1679.34,882.0 L1684.39,882.0 L1684.39,882.0 L1689.44,882.0 L1689.44,884.0 L1694.49,884.0 L1694.49,891.5 L1699.54,891.5 L1699.54,893.0 L1704.59,893.0 L1704.59,885.5 L1709.65,885.5 L1709.65,871.0 L1714.70,871.0 L1714.70,871.0 L1719.75,871.0 L1719.75,871.0 L1724.80,871.0 L1724.80,871.0 L1729.85,871.0 L1729.85,869.0 L1734.90,869.0 L1734.90,871.0 L1739.95,871.0 L1739.95,871.0 L1745.00,871.0 L1745.00,871.0 L1750.05,871.0 L1750.05,871.0 L1755.11,871.0 L1755.11,871.0 L1760.16,871.0 L1760.16,871.0 L1765.21,871.0 L1765.21,871.0 L1770.26,871.0 L1770.26,871.0 L1775.31,871.0 L1775.31,871.0 L1780.36,871.0 L1780.36,871.0 L1785.41,871.0 L1785.41,871.0 L1790.46,871.0 L1790.46,871.0 L1795.51,871.0 L1795.51,871.0 L1800.56,871.0 L1800.56,871.0 L1805.62,871.0 L1805.62,871.0 L1810.67,871.0 L1810.67,871.0 L1815.72,871.0 L1815.72,871.0 L1820.77,871.0 L1820.77,871.0 L1825.82,871.0 L1825.82,871.0 L1830.87,871.0 L1830.87,866.0 L1835.92,866.0 L1835.92,866.0 L1840.97,866.0 L1840.97,864.0 L1846.02,864.0 L1846.02,860.0 L1851.08,860.0 L1851.08,856.5 L1856.13,856.5 L1856.13,856.5 L1861.18,856.5 L1861.18,856.5 L1866.23,856.5 L1866.23,856.5 L1871.28,856.5 L1871.28,856.5 L1876.33,856.5 L1876.33,853.0 L1881.38,853.0 L1881.38,855.0 L1886.43,855.0 L1886.43,855.0 L1891.48,855.0 L1891.48,855.0 L1896.53,855.0 L1896.53,855.0 L1901.59,855.0 L1901.59,855.0 L1906.64,855.0 L1906.64,855.0 L1911.69,855.0 L1911.69,853.0 L1916.74,853.0 L1916.74,848.0 L1921.79,848.0 L1921.79,851.0 L1926.84,851.0 L1926.84,851.0 L1931.89,851.0 L1931.89,851.0 L1936.94,851.0 L1936.94,853.0 L1941.99,853.0 L1941.99,849.5 L1947.05,849.5 L1947.05,849.5 L1952.10,849.5 L1952.10,853.0 L1957.15,853.0 L1957.15,851.0 L1962.20,851.0 L1962.20,851.0 L1967.25,851.0 L1967.25,851.0 L1972.30,851.0 L1972.30,851.0 L1977.35,851.0 L1977.35,849.5 L1982.40,849.5 L1982.40,848.0 L1987.45,848.0 L1987.45,848.0 L1992.50,848.0 L1992.50,848.0 L1997.56,848.0 L1997.56,848.0 L2002.61,848.0 L2002.61,848.0 L2007.66,848.0 L2007.66,848.0 L2012.71,848.0 L2012.71,850.0 L2017.76,850.0 L2017.76,855.0 L2022.81,855.0 L2022.81,857.0 L2027.86,857.0 L2027.86,859.0 L2032.91,859.0 L2032.91,860.0 L2037.96,860.0 L2037.96,860.0 L2043.02,860.0 L2043.02,860.0 L2048.07,860.0 L2048.07,862.0 L2053.12,862.0 L2053.12,860.0 L2058.17,860.0 L2058.17,860.0 L2063.22,860.0 L2063.22,858.5 L2068.27,858.5 L2068.27,858.5 L2073.32,858.5 L2073.32,858.5 L2078.37,858.5 L2078.37,858.5 L2083.42,858.5 L2083.42,866.0 L2088.47,866.0 L2088.47,866.0 L2091.00,866.0" fill="none" stroke="#bfc3cc" stroke-width="1.2"/>
<path d="M164.03,820.5V909.5M169.08,816.5V909.5M174.13,814.5V909.5M179.18,814.5V909.5M184.23,816.5V909.5M189.28,816.5V909.5M194.33,816.5V909.5M199.38,811.0V909.5M204.43,811.0V909.5M209.48,809.5V909.5M214.54,805.5V909.5M219.59,802.5V909.5M224.64,802.5V909.5M229.69,802.5V909.5M234.74,802.5V909.5M239.79,802.5V909.5M244.84,795.0V909.5M249.89,795.0V909.5M254.94,795.0V909.5M260.00,795.0V909.5M265.05,795.0V909.5M270.10,795.0V909.5M275.15,795.0V909.5M280.20,795.0V909.5M285.25,793.5V909.5M290.30,789.5V909.5M295.35,789.5V909.5M300.40,789.5V909.5M305.45,789.5V909.5M310.51,786.0V909.5M315.56,786.0V909.5M320.61,786.0V909.5M325.66,786.0V909.5M330.71,787.5V909.5M335.76,787.5V909.5M340.81,787.5V909.5M345.86,789.5V909.5M350.91,793.5V909.5M355.97,789.5V909.5M361.02,789.5V909.5M366.07,806.0V909.5M371.12,806.0V909.5M376.17,800.5V909.5M381.22,800.5V909.5M386.27,800.5V909.5M391.32,800.5V909.5M396.37,800.5V909.5M401.42,804.0V909.5M406.48,804.0V909.5M411.53,802.5V909.5M416.58,802.5V909.5M421.63,809.5V909.5M426.68,813.0V909.5M431.73,818.5V909.5M436.78,822.0V909.5M441.83,820.5V909.5M446.88,820.5V909.5M451.94,820.5V909.5M456.99,822.5V909.5M462.04,823.5V909.5M467.09,823.5V909.5M472.14,823.5V909.5M477.19,823.5V909.5M482.24,823.5V909.5M487.29,825.5V909.5M492.34,827.5V909.5M497.39,829.5V909.5M502.45,829.5V909.5M507.50,834.5V909.5M512.55,834.5V909.5M517.60,834.5V909.5M522.65,834.5V909.5M527.70,838.5V909.5M532.75,841.5V909.5M537.80,845.5V909.5M542.85,845.5V909.5M547.91,845.5V909.5M552.96,847.5V909.5M558.01,845.5V909.5M563.06,843.5V909.5M568.11,843.5V909.5M573.16,845.5V909.5M578.21,847.5V909.5M583.26,847.5V909.5M588.31,847.5V909.5M593.36,843.5V909.5M598.42,843.5V909.5M603.47,840.0V909.5M608.52,834.5V909.5M613.57,834.5V909.5M618.62,836.5V909.5M623.67,833.0V909.5M628.72,830.5V909.5M633.77,830.5V909.5M638.82,830.5V909.5M643.88,830.5V909.5M648.93,830.5V909.5M653.98,830.5V909.5M659.03,830.5V909.5M664.08,836.5V909.5M669.13,836.5V909.5M674.18,834.5V909.5M679.23,834.5V909.5M684.28,836.5V909.5M689.33,836.5V909.5M694.39,836.5V909.5M699.44,838.5V909.5M704.49,840.0V909.5M709.54,841.5V909.5M714.59,841.5V909.5M719.64,841.5V909.5M724.69,841.5V909.5M729.74,841.5V909.5M734.79,845.5V909.5M739.84,849.0V909.5M744.90,852.5V909.5M749.95,843.5V909.5M755.00,843.5V909.5M760.05,843.5V909.5M765.10,841.5V909.5M770.15,841.5V909.5M775.20,841.5V909.5M780.25,841.5V909.5M785.30,841.5V909.5M790.36,841.5V909.5M795.41,841.5V909.5M800.46,841.5V909.5M805.51,843.5V909.5M810.56,840.0V909.5M815.61,840.0V909.5M820.66,840.0V909.5M825.71,843.5V909.5M830.76,845.5V909.5M835.81,845.5V909.5M840.87,850.5V909.5M845.92,850.5V909.5M850.97,850.5V909.5M856.02,850.5V909.5M861.07,854.5V909.5M866.12,854.5V909.5M871.17,850.5V909.5M876.22,850.5V909.5M881.27,850.5V909.5M886.33,850.5V909.5M891.38,850.5V909.5M896.43,858.0V909.5M901.48,858.0V909.5M906.53,858.0V909.5M911.58,856.0V909.5M916.63,850.5V909.5M921.68,850.5V909.5M926.73,849.0V909.5M931.78,849.0V909.5M936.84,849.0V909.5M941.89,849.0V909.5M946.94,845.5V909.5M951.99,845.5V909.5M957.04,847.0V909.5M962.09,845.5V909.5M967.14,845.5V909.5M972.19,847.5V909.5M977.24,841.5V909.5M982.30,840.0V909.5M987.35,840.0V909.5M992.40,840.0V909.5M997.45,840.0V909.5M1002.50,840.0V909.5M1007.55,843.5V909.5M1012.60,841.5V909.5M1017.65,841.5V909.5M1022.70,843.5V909.5M1027.75,847.5V909.5M1032.81,849.0V909.5M1037.86,852.5V909.5M1042.91,854.5V909.5M1047.96,852.5V909.5M1053.01,852.5V909.5M1058.06,852.5V909.5M1063.11,854.5V909.5M1068.16,854.5V909.5M1073.21,850.5V909.5M1078.27,850.5V909.5M1083.32,850.5V909.5M1088.37,850.5V909.5M1093.42,849.0V909.5M1098.47,849.0V909.5M1103.52,849.0V909.5M1108.57,847.5V909.5M1113.62,847.5V909.5M1118.67,845.5V909.5M1123.72,841.5V909.5M1128.78,838.5V909.5M1133.83,838.5V909.5M1138.88,832.5V909.5M1143.93,832.5V909.5M1148.98,838.5V909.5M1154.03,840.0V909.5M1159.08,836.5V909.5M1164.13,836.5V909.5M1169.18,834.5V909.5M1174.23,834.5V909.5M1179.29,834.5V909.5M1184.34,836.5V909.5M1189.39,836.5V909.5M1194.44,836.5V909.5M1199.49,831.0V909.5M1204.54,831.0V909.5M1209.59,829.5V909.5M1214.64,829.5V909.5M1219.69,829.5V909.5M1224.75,829.5V909.5M1229.80,823.5V909.5M1234.85,823.5V909.5M1239.90,827.5V909.5M1244.95,831.0V909.5M1250.00,833.0V909.5M1255.05,834.5V909.5M1260.10,834.5V909.5M1265.15,834.5V909.5M1270.20,836.5V909.5M1275.26,836.5V909.5M1280.31,834.5V909.5M1285.36,834.5V909.5M1290.41,834.5V909.5M1295.46,834.5V909.5M1300.51,834.5V909.5M1305.56,840.0V909.5M1310.61,841.5V909.5M1315.66,847.5V909.5M1320.72,849.0V909.5M1325.77,849.0V909.5M1330.82,849.0V909.5M1335.87,849.0V909.5M1340.92,850.5V909.5M1345.97,850.5V909.5M1351.02,850.5V909.5M1356.07,850.5V909.5M1361.12,850.5V909.5M1366.17,850.5V909.5M1371.23,850.5V909.5M1376.28,849.0V909.5M1381.33,847.5V909.5M1386.38,847.5V909.5M1391.43,852.5V909.5M1396.48,854.5V909.5M1401.53,852.5V909.5M1406.58,852.5V909.5M1411.63,854.5V909.5M1416.69,858.0V909.5M1421.74,858.0V909.5M1426.79,859.5V909.5M1431.84,859.5V909.5M1436.89,859.5V909.5M1441.94,858.0V909.5M1446.99,858.0V909.5M1452.04,858.0V909.5M1457.09,858.0V909.5M1462.14,856.0V909.5M1467.20,856.0V909.5M1472.25,856.0V909.5M1477.30,856.0V909.5M1482.35,859.5V909.5M1487.40,863.5V909.5M1492.45,863.5V909.5M1497.50,867.0V909.5M1502.55,869.0V909.5M1507.60,869.0V909.5M1512.66,869.0V909.5M1517.71,869.0V909.5M1522.76,870.5V909.5M1527.81,868.5V909.5M1532.86,868.5V909.5M1537.91,870.5V909.5M1542.96,870.5V909.5M1548.01,870.5V909.5M1553.06,874.5V909.5M1558.11,880.0V909.5M1563.17,880.0V909.5M1568.22,883.5V909.5M1573.27,883.5V909.5M1578.32,883.5V909.5M1583.37,881.5V909.5M1588.42,877.5V909.5M1593.47,877.5V909.5M1598.52,877.5V909.5M1603.57,881.5V909.5M1608.62,881.5V909.5M1613.68,881.5V909.5M1618.73,881.5V909.5M1623.78,881.5V909.5M1628.83,881.5V909.5M1633.88,883.5V909.5M1638.93,883.5V909.5M1643.98,885.0V909.5M1649.03,885.0V909.5M1654.08,885.0V909.5M1659.14,886.5V909.5M1664.19,885.5V909.5M1669.24,880.0V909.5M1674.29,880.0V909.5M1679.34,881.5V909.5M1684.39,881.5V909.5M1689.44,881.5V909.5M1694.49,883.5V909.5M1699.54,891.0V909.5M1704.59,885.0V909.5M1709.65,870.5V909.5M1714.70,870.5V909.5M1719.75,870.5V909.5M1724.80,870.5V909.5M1729.85,868.5V909.5M1734.90,868.5V909.5M1739.95,870.5V909.5M1745.00,870.5V909.5M1750.05,870.5V909.5M1755.11,870.5V909.5M1760.16,870.5V909.5M1765.21,870.5V909.5M1770.26,870.5V909.5M1775.31,870.5V909.5M1780.36,870.5V909.5M1785.41,870.5V909.5M1790.46,870.5V909.5M1795.51,870.5V909.5M1800.56,870.5V909.5M1805.62,870.5V909.5M1810.67,870.5V909.5M1815.72,870.5V909.5M1820.77,870.5V909.5M1825.82,870.5V909.5M1830.87,865.5V909.5M1835.92,865.5V909.5M1840.97,863.5V909.5M1846.02,859.5V909.5M1851.08,856.0V909.5M1856.13,856.0V909.5M1861.18,856.0V909.5M1866.23,856.0V909.5M1871.28,856.0V909.5M1876.33,852.5V909.5M1881.38,852.5V909.5M1886.43,854.5V909.5M1891.48,854.5V909.5M1896.53,854.5V909.5M1901.59,854.5V909.5M1906.64,854.5V909.5M1911.69,852.5V909.5M1916.74,847.5V909.5M1921.79,847.5V909.5M1926.84,850.5V909.5M1931.89,850.5V909.5M1936.94,850.5V909.5M1941.99,849.0V909.5M1947.05,849.0V909.5M1952.10,849.0V909.5M1957.15,850.5V909.5M1962.20,850.5V909.5M1967.25,850.5V909.5M1972.30,850.5V909.5M1977.35,849.0V909.5M1982.40,847.5V909.5M1987.45,847.5V909.5M1992.50,847.5V909.5M1997.56,847.5V909.5M2002.61,847.5V909.5M2007.66,847.5V909.5M2012.71,847.5V909.5M2017.76,849.5V909.5M2022.81,854.5V909.5M2027.86,856.5V909.5M2032.91,858.5V909.5M2037.96,859.5V909.5M2043.02,859.5V909.5M2048.07,859.5V909.5M2053.12,859.5V909.5M2058.17,859.5V909.5M2063.22,858.0V909.5M2068.27,858.0V909.5M2073.32,858.0V909.5M2078.37,858.0V909.5M2083.42,858.0V909.5M2088.47,865.5V909.5" fill="none" stroke="#cdd0d7" stroke-width="1.25"/>
<path d="M161.9,820.5V909.5M2090.6,865.5V909.5" stroke="#8d94a1" stroke-width="0.8"/>
<path d="M161.5,635.0 C162.2,635.2 165.1,636.1 166.5,636.1 C167.9,634.9 170.0,628.3 171.4,626.5 C172.8,624.7 174.9,623.2 176.3,623.2 C177.7,623.7 178.4,628.9 181.2,629.8 C184.0,629.8 193.2,629.8 196.0,629.5 C198.8,627.4 199.4,616.6 200.9,614.8 C202.4,614.8 203.4,617.0 206.4,617.0 C209.4,613.7 218.5,595.3 221.9,591.8 C225.3,591.8 227.3,592.4 230.1,592.4 C232.9,592.4 239.5,592.4 241.9,591.5 C244.3,589.4 245.8,579.1 247.3,577.9 C248.8,577.9 251.4,582.8 252.8,582.8 C254.2,582.8 254.6,579.0 257.4,578.2 C260.2,577.4 269.5,577.1 272.5,577.1 C275.5,577.1 275.6,577.9 278.5,577.9 C281.4,576.1 289.0,566.3 293.0,564.2 C297.0,562.9 303.8,564.1 306.6,562.9 C309.4,561.7 310.9,556.1 312.6,555.5 C314.3,555.5 316.9,559.0 318.4,559.0 C319.9,558.6 321.9,552.6 323.3,552.5 C324.7,552.5 325.6,557.6 328.2,558.5 C330.8,558.8 338.9,558.5 341.3,558.8 C343.7,559.3 343.8,559.9 344.9,562.3 C346.0,564.7 347.1,575.8 349.0,576.0 C350.9,576.0 356.9,564.5 358.5,563.7 C360.1,563.7 359.6,565.3 360.4,570.5 C361.2,575.7 362.0,596.3 364.0,600.6 C366.0,600.6 372.2,600.6 374.4,600.6 C376.6,598.7 378.2,589.4 379.6,587.5 C381.0,587.2 383.1,587.2 384.5,587.2 C385.9,587.7 388.1,590.8 389.4,591.0 C390.7,591.0 392.6,588.3 394.0,588.3 C395.4,589.7 398.1,599.6 399.5,600.6 C400.9,600.6 401.5,596.3 403.6,595.6 C405.7,595.6 412.3,595.6 414.5,595.6 C416.7,598.1 418.0,609.5 419.4,612.9 C420.8,616.3 422.0,615.8 424.1,619.7 C426.2,623.6 431.9,637.3 434.2,640.2 C436.5,640.2 438.3,640.2 440.5,640.2 C442.7,639.7 447.5,636.6 450.0,636.6 C452.5,637.4 456.1,642.4 458.2,645.6 C460.3,648.8 463.5,659.3 465.1,659.3 C466.7,659.3 466.9,647.6 469.2,645.6 C471.5,645.4 479.2,645.4 481.4,645.4 C483.6,645.5 483.7,645.7 485.0,646.5 C486.3,647.3 489.0,649.3 490.5,651.1 C492.0,652.9 493.9,658.3 495.4,659.3 C496.9,659.3 499.4,658.5 500.8,658.5 C502.2,660.0 504.1,668.5 505.5,670.2 C506.9,670.8 509.3,670.8 511.0,670.8 C512.7,670.6 515.7,668.9 517.2,668.9 C518.7,669.0 520.1,668.9 521.9,671.6 C523.7,674.3 527.8,684.2 530.1,688.0 C532.4,691.8 535.6,696.9 538.3,698.4 C541.0,698.9 547.1,698.4 549.2,698.9 C551.3,699.9 552.3,703.3 553.3,705.7 C554.3,708.1 555.5,715.8 556.6,715.8 C557.7,714.6 559.6,700.7 560.9,697.5 C562.2,694.3 564.5,693.4 566.1,693.4 C567.7,693.5 570.5,697.2 572.4,698.4 C574.3,699.6 577.1,701.7 579.2,702.2 C581.3,702.2 585.7,702.2 587.4,702.2 C589.1,702.4 590.3,703.8 591.5,703.8 C592.7,702.5 594.0,694.5 595.6,692.9 C597.2,692.4 600.3,692.9 602.5,692.4 C604.7,689.4 609.3,674.7 611.2,671.6 C613.1,670.2 614.3,670.5 616.1,670.2 C617.9,669.9 621.5,670.2 623.8,669.4 C626.1,667.7 630.1,659.7 632.0,657.9 C633.9,656.6 636.0,656.6 637.4,656.6 C638.8,656.8 639.3,658.9 642.1,659.3 C644.9,659.3 654.2,659.3 657.1,659.3 C660.0,660.8 661.0,668.1 662.6,669.7 C664.2,670.8 666.5,670.8 668.6,670.8 C670.7,670.2 675.7,665.6 677.6,665.6 C679.5,665.6 680.5,670.0 682.2,670.8 C683.9,671.0 687.5,670.8 689.9,671.0 C692.3,671.9 697.6,676.1 699.4,677.1 C701.2,677.9 700.8,677.1 702.7,677.9 C704.6,679.4 710.8,686.7 713.1,687.4 C715.4,687.4 716.5,683.8 718.6,683.1 C720.7,682.5 726.2,682.5 728.1,682.5 C730.0,682.7 730.3,682.5 732.2,684.7 C734.1,688.0 740.1,702.3 741.8,705.7 C743.5,709.0 743.5,708.7 744.5,709.0 C745.5,709.0 747.4,709.0 748.6,707.6 C749.8,704.2 750.6,688.3 752.7,685.2 C754.8,685.2 761.3,685.8 763.6,685.8 C765.9,685.2 767.6,681.2 769.1,681.2 C770.6,681.4 772.6,687.3 774.0,687.4 C775.4,687.4 777.3,682.6 778.7,682.0 C780.1,682.0 782.0,683.1 784.1,683.1 C786.2,683.1 790.6,682.1 793.7,682.0 C796.8,682.0 803.7,682.4 806.0,682.5 C808.3,682.5 808.8,682.5 810.1,682.5 C811.4,681.6 813.6,676.5 815.0,676.5 C816.4,677.1 818.5,684.7 819.9,686.6 C821.3,688.5 822.5,689.7 824.6,690.2 C826.7,690.2 832.5,689.9 834.7,689.9 C836.9,691.1 838.6,697.2 840.1,698.9 C841.6,700.6 843.6,702.2 845.0,702.2 C846.4,702.2 848.5,699.3 850.0,698.9 C851.5,698.9 854.0,698.9 855.4,699.7 C856.8,701.0 858.1,706.7 860.1,707.9 C862.1,707.9 867.4,707.9 869.6,707.9 C871.8,706.7 874.0,701.0 875.6,699.7 C877.2,698.4 879.3,698.4 880.6,698.4 C881.9,698.7 883.2,699.2 884.7,701.6 C886.2,704.0 889.9,712.7 891.5,715.3 C893.1,717.9 893.4,719.5 896.1,720.2 C898.8,720.2 908.0,720.2 910.6,719.9 C913.2,719.2 913.2,717.9 914.7,715.3 C916.2,712.7 919.5,703.8 921.0,701.6 C922.5,699.7 924.2,701.0 925.6,699.7 C927.0,698.4 928.8,693.6 931.1,692.6 C933.4,692.6 939.8,692.6 942.0,692.6 C944.2,692.2 945.6,691.0 946.9,689.9 C948.2,688.8 949.8,684.7 951.0,684.7 C952.2,685.0 954.3,692.1 955.7,692.1 C957.1,691.9 959.7,683.8 961.2,683.1 C962.7,683.1 964.5,686.8 966.6,687.4 C968.7,687.4 974.0,687.4 976.2,687.2 C978.4,685.5 980.7,677.9 982.2,675.7 C983.7,673.5 985.2,671.7 986.6,671.6 C988.0,671.6 990.6,675.1 992.0,675.1 C993.4,674.8 995.4,669.4 996.7,669.4 C998.0,670.1 1000.0,678.4 1001.3,679.8 C1002.6,679.8 1004.7,679.8 1006.2,679.2 C1007.7,678.5 1010.8,675.1 1012.2,675.1 C1013.6,675.1 1014.3,677.0 1015.8,679.0 C1017.3,681.0 1021.1,687.6 1022.6,689.3 C1024.1,691.0 1025.3,689.6 1026.7,691.3 C1028.1,693.0 1030.7,699.7 1032.2,701.6 C1033.7,703.5 1035.3,704.0 1037.6,704.4 C1039.9,704.4 1046.4,704.4 1048.6,704.4 C1050.8,704.1 1051.9,702.3 1053.2,702.2 C1054.5,702.2 1056.2,702.8 1057.6,703.8 C1059.0,704.8 1061.6,708.7 1063.0,709.0 C1064.4,709.0 1066.4,707.5 1067.7,705.7 C1069.0,703.9 1070.2,697.5 1072.3,696.2 C1074.4,696.2 1080.5,696.2 1082.7,696.2 C1084.9,695.9 1085.5,694.4 1087.6,694.0 C1089.7,693.6 1095.5,693.4 1097.7,693.4 C1099.9,694.2 1101.8,699.5 1103.2,699.5 C1104.6,698.4 1105.7,687.8 1107.8,685.8 C1109.9,685.2 1115.9,685.8 1118.2,685.2 C1120.5,684.4 1122.0,682.3 1123.7,679.8 C1125.4,677.3 1128.4,671.6 1130.5,667.5 C1132.6,663.4 1136.6,651.9 1138.7,651.1 C1140.8,651.1 1143.5,659.6 1145.0,662.0 C1146.5,664.4 1147.7,667.4 1149.1,668.3 C1150.5,668.3 1153.2,668.3 1154.6,668.3 C1156.0,666.8 1157.9,659.6 1159.2,657.9 C1160.5,656.2 1162.1,656.9 1163.6,656.0 C1165.1,655.1 1168.1,652.2 1169.6,651.6 C1171.1,651.6 1173.2,651.6 1174.5,651.6 C1175.8,652.0 1176.3,654.4 1179.1,654.7 C1181.9,654.7 1191.4,654.7 1194.2,653.6 C1197.0,651.5 1197.4,641.7 1199.1,639.6 C1200.8,638.8 1204.3,639.4 1206.5,638.8 C1208.7,638.2 1212.1,636.0 1214.7,635.5 C1217.3,635.3 1222.7,635.5 1224.8,635.3 C1226.9,633.5 1228.4,624.0 1229.7,623.0 C1231.0,623.0 1232.3,625.5 1233.8,627.9 C1235.3,630.3 1238.6,638.1 1240.1,640.2 C1241.6,642.3 1243.3,641.1 1244.7,642.4 C1246.1,643.7 1247.9,648.7 1250.2,649.7 C1252.5,649.7 1258.9,649.7 1261.1,649.7 C1263.3,650.9 1264.3,657.3 1265.7,657.9 C1267.1,657.9 1269.3,654.0 1270.7,653.8 C1272.1,653.8 1274.3,656.6 1275.6,656.6 C1276.9,655.6 1277.3,647.9 1280.2,646.5 C1283.1,646.5 1293.2,646.5 1296.1,646.5 C1299.0,648.9 1299.3,660.4 1300.7,663.4 C1302.1,666.4 1304.1,664.7 1306.2,667.5 C1308.3,670.3 1313.5,681.4 1315.7,683.1 C1317.9,683.1 1319.7,679.8 1322.0,679.2 C1324.3,679.0 1329.9,679.0 1332.1,679.0 C1334.3,679.7 1335.5,683.0 1337.6,683.9 C1339.7,684.8 1344.7,685.2 1347.2,685.2 C1349.7,685.1 1352.5,683.6 1355.3,683.3 C1358.1,683.1 1364.5,683.1 1366.8,683.1 C1369.1,683.4 1370.3,685.2 1371.7,685.2 C1373.1,684.7 1375.2,681.0 1376.7,679.8 C1378.2,678.6 1380.7,676.5 1382.1,676.5 C1383.5,677.8 1385.4,686.5 1386.8,689.3 C1388.2,692.1 1390.2,695.3 1391.7,696.2 C1393.2,696.2 1396.2,696.2 1397.7,695.6 C1399.2,694.9 1401.0,691.4 1402.3,691.3 C1403.6,691.3 1405.3,693.1 1406.7,694.8 C1408.1,696.5 1410.6,701.7 1412.2,703.0 C1413.8,703.8 1416.0,703.0 1418.2,703.8 C1420.4,704.6 1424.9,708.3 1427.7,709.0 C1430.5,709.0 1435.7,709.0 1437.8,709.0 C1439.9,708.3 1441.5,704.5 1442.8,704.4 C1444.1,704.4 1444.2,708.5 1446.9,708.5 C1449.6,708.0 1458.4,701.9 1461.9,700.8 C1465.4,700.8 1469.5,700.8 1471.4,700.8 C1473.3,700.9 1473.4,700.8 1475.0,701.6 C1476.6,703.7 1480.7,713.0 1482.6,715.3 C1484.5,717.5 1485.9,715.5 1488.1,717.5 C1490.3,719.5 1495.8,727.8 1498.2,729.5 C1500.6,729.5 1502.7,729.5 1505.0,729.5 C1507.3,729.2 1512.6,727.6 1514.6,727.6 C1516.6,728.3 1518.0,733.0 1519.3,734.4 C1520.6,735.8 1522.3,737.2 1523.6,737.2 C1524.9,736.0 1526.1,727.2 1528.3,725.7 C1530.5,725.7 1536.9,726.1 1539.2,726.8 C1541.5,727.5 1543.3,728.6 1544.7,730.3 C1546.1,732.0 1547.5,734.7 1548.8,738.5 C1550.1,742.3 1552.2,754.5 1553.7,756.8 C1555.2,756.8 1557.6,754.4 1559.1,754.4 C1560.6,754.9 1561.6,759.5 1564.6,760.4 C1567.6,760.6 1577.4,760.6 1580.2,760.6 C1583.0,760.0 1583.0,758.5 1584.3,756.3 C1585.6,754.1 1587.9,746.4 1589.2,744.8 C1590.5,744.8 1592.4,744.8 1593.8,745.3 C1595.2,746.9 1597.7,754.7 1599.3,756.3 C1600.9,756.8 1602.5,756.8 1604.8,756.8 C1607.1,756.7 1613.5,756.1 1615.7,755.5 C1617.9,754.9 1617.8,752.7 1620.3,752.7 C1622.8,753.3 1630.6,757.9 1633.4,759.6 C1636.2,761.3 1637.8,764.4 1640.3,765.0 C1642.8,765.0 1648.4,763.7 1650.7,763.7 C1653.0,764.1 1655.1,767.2 1656.7,767.7 C1658.3,767.7 1660.8,767.7 1662.1,767.2 C1663.4,766.2 1665.0,762.8 1666.2,760.4 C1667.4,758.0 1668.9,751.0 1670.3,750.3 C1671.7,750.3 1673.5,754.7 1675.8,755.5 C1678.1,755.7 1684.5,755.5 1686.7,755.7 C1688.9,756.2 1690.3,756.0 1691.6,759.0 C1692.9,762.0 1694.5,773.2 1695.7,776.8 C1696.9,780.4 1699.2,783.9 1700.4,784.1 C1701.6,784.1 1702.9,783.6 1703.9,778.1 C1704.9,772.6 1706.8,753.1 1707.7,745.3 C1708.6,737.5 1708.6,726.1 1710.5,722.9 C1712.4,722.9 1718.7,722.9 1720.9,722.9 C1723.1,723.3 1724.9,725.4 1726.3,725.4 C1727.7,724.4 1729.6,716.6 1731.0,716.1 C1732.4,716.1 1731.0,721.3 1735.9,722.1 C1743.0,722.1 1773.6,721.6 1781.0,721.6 C1787.8,721.7 1784.4,722.5 1787.8,722.7 C1791.2,722.9 1799.4,722.9 1805.0,722.9 C1810.6,722.9 1823.5,722.9 1827.4,722.9 C1831.3,720.9 1830.8,711.1 1832.3,709.0 C1833.8,708.2 1836.3,709.0 1837.8,708.2 C1839.3,707.0 1841.2,704.1 1843.2,700.3 C1845.2,696.5 1849.1,684.4 1852.0,681.7 C1854.9,681.2 1861.4,681.2 1863.7,681.2 C1866.0,681.4 1867.1,683.3 1868.4,683.3 C1869.7,683.3 1871.3,682.6 1872.7,681.2 C1874.1,679.8 1876.6,674.1 1878.2,673.5 C1879.8,673.5 1882.1,676.8 1883.7,677.1 C1885.3,677.1 1887.5,676.0 1889.7,675.7 C1891.9,675.4 1896.5,675.1 1899.2,675.1 C1901.9,675.4 1906.9,677.6 1908.8,677.6 C1910.7,677.3 1911.5,675.7 1912.9,673.0 C1914.3,670.3 1916.9,659.4 1918.4,658.5 C1919.9,658.5 1921.7,665.5 1923.8,666.7 C1925.9,666.7 1931.3,666.7 1933.4,666.7 C1935.5,667.1 1937.4,669.7 1938.9,669.7 C1940.4,668.7 1942.3,661.3 1943.8,659.8 C1945.3,658.8 1947.8,658.8 1949.2,658.8 C1950.6,660.2 1952.5,668.3 1953.9,669.4 C1955.3,669.4 1956.2,667.3 1959.3,666.9 C1962.4,666.5 1972.4,666.9 1975.7,666.4 C1979.0,665.1 1980.7,659.8 1982.6,657.9 C1984.5,656.0 1987.7,653.6 1989.4,653.3 C1991.1,653.3 1991.9,655.7 1994.9,656.0 C1997.9,656.0 2007.6,655.7 2010.4,655.7 C2013.2,656.4 2013.3,658.1 2014.8,660.7 C2016.3,663.3 2018.8,670.8 2020.8,674.3 C2022.8,677.8 2026.3,683.7 2029.0,685.2 C2031.7,685.2 2037.6,685.2 2039.9,685.2 C2042.2,685.5 2044.0,685.9 2045.4,687.4 C2046.8,688.9 2048.6,695.2 2050.0,695.6 C2051.4,695.6 2053.5,691.0 2055.0,690.2 C2056.5,689.9 2058.9,690.2 2060.4,689.9 C2061.9,689.0 2063.1,684.8 2065.9,683.9 C2068.7,683.9 2077.7,683.9 2080.4,683.9 C2083.1,686.1 2083.5,697.5 2085.0,699.7 C2086.5,699.7 2090.2,699.7 2091.0,699.7" fill="none" stroke="#ef876c" stroke-width="3.6" stroke-linejoin="round" stroke-linecap="butt" clip-path="url(#pc)"/>
</svg>
<div class="t" style="left:162.40px;top:925px;font-size:22.0px;line-height:25px;transform:scaleX(0.9844);color:#d9dce2;">Jan '23</div>
<div class="t" style="left:319.90px;top:925px;font-size:22.0px;line-height:25px;transform:scaleX(1.0138);color:#d9dce2;">Feb '23</div>
<div class="t" style="left:461.60px;top:925px;font-size:22.0px;line-height:25px;transform:scaleX(1.0316);color:#d9dce2;">Mar '23</div>
<div class="t" style="left:618.70px;top:925px;font-size:22.0px;line-height:25px;transform:scaleX(1.0420);color:#d9dce2;">Apr '23</div>
<div class="t" style="left:770.00px;top:925px;font-size:22.0px;line-height:25px;transform:scaleX(1.0301);color:#d9dce2;">May '23</div>
<div class="t" style="left:927.60px;top:925px;font-size:22.0px;line-height:25px;transform:scaleX(0.9915);color:#d9dce2;">Jun '23</div>
<div class="t" style="left:1079.80px;top:925px;font-size:22.0px;line-height:25px;transform:scaleX(0.9825);color:#d9dce2;">Jul '23</div>
<div class="t" style="left:1236.50px;top:925px;font-size:22.0px;line-height:25px;transform:scaleX(1.0271);color:#d9dce2;">Aug '23</div>
<div class="t" style="left:1393.20px;top:925px;font-size:22.0px;line-height:25px;transform:scaleX(1.0392);color:#d9dce2;">Sep '23</div>
<div class="t" style="left:1545.00px;top:925px;font-size:22.0px;line-height:25px;transform:scaleX(1.0739);color:#d9dce2;">Oct '23</div>
<div class="t" style="left:1702.50px;top:925px;font-size:22.0px;line-height:25px;transform:scaleX(1.0095);color:#d9dce2;">Nov '23</div>
<div class="t" style="left:1854.30px;top:925px;font-size:22.0px;line-height:25px;transform:scaleX(1.0460);color:#d9dce2;">Dec '23</div>
<div class="t" style="left:2011.40px;top:925px;font-size:22.0px;line-height:25px;transform:scaleX(0.9801);color:#d9dce2;">Jan '24</div>
<div class="b" style="left:1491px;top:195px;width:252px;height:409.5px;border-radius:9px;border:1.5px solid #424e62;background:#04152a;box-shadow:0 6px 14px rgba(0,0,0,0.25);"></div>
<div class="t" style="left:1511.40px;top:211px;font-size:25.0px;line-height:28px;transform:scaleX(1.1306);color:#727b8c;-webkit-text-stroke:0.8px currentColor;">Portfolio Ccy</div>
<div class="b" style="left:1510px;top:258px;width:223px;height:50px;border-radius:8px;background:#132136;"></div>
<div class="t" style="left:1528.60px;top:271px;font-size:21.0px;line-height:23px;transform:scaleX(1.0474);color:#ffffff;">USD</div>
<div class="t" style="left:1511.10px;top:326px;font-size:25.0px;line-height:28px;transform:scaleX(1.1504);color:#727b8c;-webkit-text-stroke:0.8px currentColor;">Other</div>
<div class="t" style="left:1529.00px;top:386px;font-size:21.5px;line-height:24px;transform:scaleX(0.9692);color:#ffffff;">EUR</div>
<div class="t" style="left:1529.00px;top:444px;font-size:21.5px;line-height:24px;transform:scaleX(1.0022);color:#ffffff;">RUB</div>
<div class="t" style="left:1529.00px;top:501px;font-size:21.5px;line-height:24px;transform:scaleX(1.0352);color:#ffffff;">GBP</div>
<div class="t" style="left:1529.00px;top:559px;font-size:21.5px;line-height:24px;transform:scaleX(1.0090);color:#ffffff;">CHF</div>
<svg width="2266" height="988" viewBox="0 0 2266 988">
<path d="M37.7,45.0 L28.7,52.7 L37.6,60.8" fill="none" stroke="#c5c9d1" stroke-width="2.2" stroke-linecap="butt" stroke-linejoin="miter"/>
<circle cx="1978.3" cy="60.5" r="7.6" fill="none" stroke="#858b97" stroke-width="2"/><path d="M1983.9,66.1 L1988.6,70.8" stroke="#858b97" stroke-width="2" stroke-linecap="round"/>
<path d="M2209,59.8 L2221,59.8 L2215,66.2 Z" fill="#ffffff"/>
<path d="M480.5,172.4 L491.6,172.4 L486,178.6 Z" fill="#ee8468"/>
<path d="M1700,156 L1718,156 L1709,165.2 Z" fill="#7c8495"/>
<path d="M1897.8,156 L1916,156 L1907,165.2 Z" fill="#7c8495"/>
<g fill="none" stroke="#a9aeb8" stroke-width="2.4" stroke-linecap="round" stroke-linejoin="round"><rect x="2176.6" y="146.3" width="26.4" height="23.6" rx="4.5"/><path d="M2176.6,154.6 H2203"/><path d="M2184.2,142.8 V149"/><path d="M2195.4,142.8 V149"/></g>
<path d="M1685.6,284.6 L1691.4,290.1 L1701.6,279.5" fill="none" stroke="#7c8495" stroke-width="2" stroke-linecap="butt" stroke-linejoin="miter"/>
<g fill="none" stroke="#a9adb5" stroke-width="2.5"><rect x="2160.5" y="356" width="15.2" height="15.2" rx="2.5"/><rect x="2182.8" y="348.9" width="22.2" height="22.2" rx="3"/><rect x="2160.5" y="377.8" width="15.2" height="15" rx="2.5"/><rect x="2182.8" y="377.8" width="15.2" height="15" rx="2.5"/></g>
<path d="M1797.4,112.2 L1716,181.5" stroke="#faf657" stroke-width="4.4" fill="none"/>
<path d="M1699.2,196.8 L1709.2,171.3 L1725.8,190.2 Z" fill="#faf657"/>
</svg>
</body></html>
